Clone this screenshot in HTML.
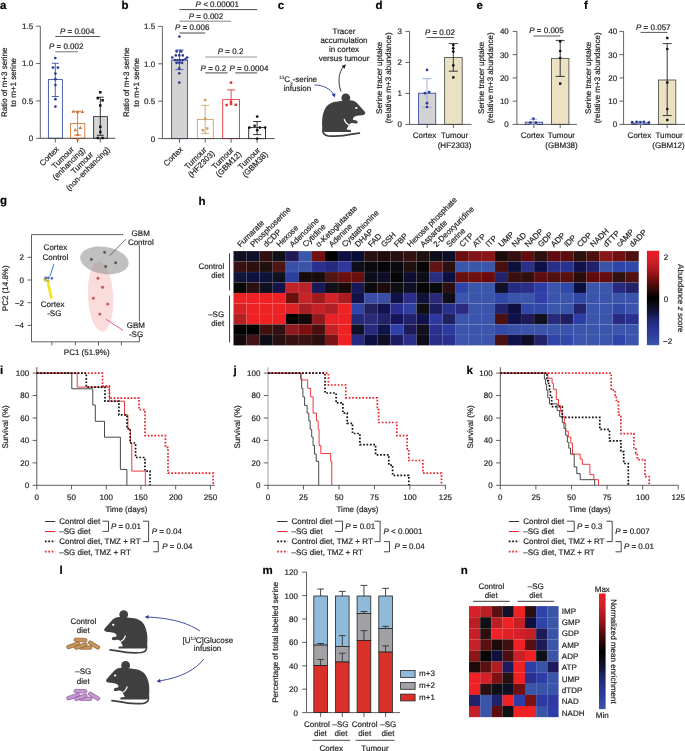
<!DOCTYPE html><html><head><meta charset="utf-8"><title>Figure</title><style>
html,body{margin:0;padding:0;background:#fff;overflow:hidden;}svg{display:block;will-change:transform;}
</style></head><body>
<svg width="685" height="751" viewBox="0 0 685 751">
<rect width="685" height="751" fill="#fff"/>
<style>text{stroke:#231f20;stroke-width:0.2px;paint-order:stroke;text-rendering:geometricPrecision;}</style>
<g font-family="Liberation Sans, sans-serif" font-size="8" fill="#231f20">
<text x="0.00" y="8.50" font-size="11.5" font-weight="bold" fill="#000" >a</text>
<line x1="40.30" y1="26.20" x2="40.30" y2="138.30" stroke="#3a3a3a" stroke-width="0.8" />
<line x1="36.10" y1="138.30" x2="40.30" y2="138.30" stroke="#3a3a3a" stroke-width="0.8" />
<text x="33.10" y="141.20" text-anchor="end" >0</text>
<line x1="36.10" y1="100.93" x2="40.30" y2="100.93" stroke="#3a3a3a" stroke-width="0.8" />
<text x="33.10" y="103.83" text-anchor="end" >0.5</text>
<line x1="36.10" y1="63.57" x2="40.30" y2="63.57" stroke="#3a3a3a" stroke-width="0.8" />
<text x="33.10" y="66.47" text-anchor="end" >1.0</text>
<line x1="36.10" y1="26.20" x2="40.30" y2="26.20" stroke="#3a3a3a" stroke-width="0.8" />
<text x="33.10" y="29.10" text-anchor="end" >1.5</text>
<line x1="55.30" y1="138.30" x2="55.30" y2="142.50" stroke="#3a3a3a" stroke-width="0.8" />
<line x1="77.60" y1="138.30" x2="77.60" y2="142.50" stroke="#3a3a3a" stroke-width="0.8" />
<line x1="100.30" y1="138.30" x2="100.30" y2="142.50" stroke="#3a3a3a" stroke-width="0.8" />
<rect x="48.40" y="79.60" width="14.00" height="58.70" fill="#fff" stroke="#3b4fa6" stroke-width="0.9" />
<rect x="70.60" y="123.50" width="14.20" height="14.80" fill="#fff" stroke="#d27638" stroke-width="0.9" />
<rect x="93.60" y="116.60" width="13.80" height="21.70" fill="#d5d5d5" stroke="#333" stroke-width="0.9" />
<line x1="40.30" y1="138.30" x2="115.30" y2="138.30" stroke="#3a3a3a" stroke-width="0.9" />
<line x1="55.30" y1="63.30" x2="55.30" y2="96.50" stroke="#3b4fa6" stroke-width="0.9" />
<line x1="51.80" y1="63.30" x2="58.80" y2="63.30" stroke="#3b4fa6" stroke-width="0.9" />
<line x1="51.80" y1="96.50" x2="58.80" y2="96.50" stroke="#3b4fa6" stroke-width="0.9" />
<line x1="77.60" y1="111.40" x2="77.60" y2="135.00" stroke="#d27638" stroke-width="0.9" />
<line x1="74.10" y1="111.40" x2="81.10" y2="111.40" stroke="#d27638" stroke-width="0.9" />
<line x1="74.10" y1="135.00" x2="81.10" y2="135.00" stroke="#d27638" stroke-width="0.9" />
<line x1="100.30" y1="97.20" x2="100.30" y2="135.30" stroke="#222" stroke-width="0.9" />
<line x1="96.80" y1="97.20" x2="103.80" y2="97.20" stroke="#222" stroke-width="0.9" />
<line x1="96.80" y1="135.30" x2="103.80" y2="135.30" stroke="#222" stroke-width="0.9" />
<circle cx="55.30" cy="58.00" r="1.35" fill="#2c3c94" />
<circle cx="53.00" cy="67.60" r="1.35" fill="#2c3c94" />
<circle cx="57.90" cy="67.60" r="1.35" fill="#2c3c94" />
<circle cx="55.40" cy="73.60" r="1.35" fill="#2c3c94" />
<circle cx="55.40" cy="79.20" r="1.35" fill="#2c3c94" />
<circle cx="55.40" cy="85.00" r="1.35" fill="#2c3c94" />
<circle cx="55.40" cy="99.20" r="1.35" fill="#2c3c94" />
<circle cx="55.40" cy="106.60" r="1.35" fill="#2c3c94" />
<path d="M71.50,112.82 L73.30,109.58 L75.10,112.82Z" fill="#d27638"/>
<path d="M75.80,113.22 L77.60,109.98 L79.40,113.22Z" fill="#d27638"/>
<path d="M80.60,113.02 L82.40,109.78 L84.20,113.02Z" fill="#d27638"/>
<path d="M73.50,131.32 L75.30,128.08 L77.10,131.32Z" fill="#d27638"/>
<path d="M78.50,129.02 L80.30,125.78 L82.10,129.02Z" fill="#d27638"/>
<path d="M75.80,136.02 L77.60,132.78 L79.40,136.02Z" fill="#d27638"/>
<path d="M75.80,140.22 L77.60,136.98 L79.40,140.22Z" fill="#d27638"/>
<rect x="99.05" y="91.05" width="2.50" height="2.50" fill="#111" />
<rect x="96.55" y="96.95" width="2.50" height="2.50" fill="#111" />
<rect x="101.35" y="99.05" width="2.50" height="2.50" fill="#111" />
<rect x="99.05" y="104.25" width="2.50" height="2.50" fill="#111" />
<rect x="99.05" y="125.55" width="2.50" height="2.50" fill="#111" />
<rect x="99.05" y="130.75" width="2.50" height="2.50" fill="#111" />
<rect x="96.65" y="136.75" width="2.50" height="2.50" fill="#111" />
<rect x="101.25" y="136.75" width="2.50" height="2.50" fill="#111" />
<line x1="55.30" y1="36.50" x2="100.20" y2="36.50" stroke="#444" stroke-width="0.9" />
<text x="77.20" y="34.00" text-anchor="middle"><tspan font-style="italic">P</tspan> = 0.004</text>
<line x1="55.30" y1="51.80" x2="78.00" y2="51.80" stroke="#666" stroke-width="0.9" />
<text x="66.20" y="49.30" text-anchor="middle"><tspan font-style="italic">P</tspan> = 0.002</text>
<text transform="translate(7.2,82.3) rotate(-90)" text-anchor="middle">Ratio of m+3 serine</text>
<text transform="translate(16.2,82.3) rotate(-90)" text-anchor="middle">to m+1 serine</text>
<text transform="translate(49.20,156.20) rotate(-45)" text-anchor="middle"><tspan x="0" y="2.60">Cortex</tspan></text>
<text transform="translate(65.80,160.70) rotate(-45)" text-anchor="middle"><tspan x="0" y="-1.55">Tumour</tspan><tspan x="0" y="6.75">(enhancing)</tspan></text>
<text transform="translate(85.00,165.90) rotate(-45)" text-anchor="middle"><tspan x="0" y="-1.55">Tumour</tspan><tspan x="0" y="6.75">(non-enhancing)</tspan></text>
<text x="121.50" y="8.50" font-size="11.5" font-weight="bold" fill="#000" >b</text>
<line x1="162.40" y1="26.40" x2="162.40" y2="138.60" stroke="#3a3a3a" stroke-width="0.8" />
<line x1="158.20" y1="138.60" x2="162.40" y2="138.60" stroke="#3a3a3a" stroke-width="0.8" />
<text x="155.20" y="141.50" text-anchor="end" >0</text>
<line x1="158.20" y1="101.20" x2="162.40" y2="101.20" stroke="#3a3a3a" stroke-width="0.8" />
<text x="155.20" y="104.10" text-anchor="end" >0.5</text>
<line x1="158.20" y1="63.80" x2="162.40" y2="63.80" stroke="#3a3a3a" stroke-width="0.8" />
<text x="155.20" y="66.70" text-anchor="end" >1.0</text>
<line x1="158.20" y1="26.40" x2="162.40" y2="26.40" stroke="#3a3a3a" stroke-width="0.8" />
<text x="155.20" y="29.30" text-anchor="end" >1.5</text>
<line x1="179.50" y1="138.60" x2="179.50" y2="142.80" stroke="#3a3a3a" stroke-width="0.8" />
<line x1="205.20" y1="138.60" x2="205.20" y2="142.80" stroke="#3a3a3a" stroke-width="0.8" />
<line x1="231.10" y1="138.60" x2="231.10" y2="142.80" stroke="#3a3a3a" stroke-width="0.8" />
<line x1="257.10" y1="138.60" x2="257.10" y2="142.80" stroke="#3a3a3a" stroke-width="0.8" />
<rect x="171.60" y="60.10" width="16.00" height="78.50" fill="#d3d3d3" stroke="#3b4fa6" stroke-width="0.9" />
<rect x="197.30" y="119.40" width="16.00" height="19.20" fill="#fff" stroke="#c9a261" stroke-width="0.9" />
<rect x="222.70" y="99.60" width="16.80" height="39.00" fill="#fff" stroke="#e8343a" stroke-width="0.9" />
<rect x="248.70" y="127.60" width="16.80" height="11.00" fill="#fff" stroke="#222" stroke-width="0.9" />
<line x1="162.40" y1="138.60" x2="274.70" y2="138.60" stroke="#3a3a3a" stroke-width="0.9" />
<line x1="179.50" y1="50.00" x2="179.50" y2="69.60" stroke="#3b4fa6" stroke-width="0.9" />
<line x1="175.50" y1="50.00" x2="183.50" y2="50.00" stroke="#3b4fa6" stroke-width="0.9" />
<line x1="175.50" y1="69.60" x2="183.50" y2="69.60" stroke="#3b4fa6" stroke-width="0.9" />
<line x1="205.20" y1="105.30" x2="205.20" y2="133.40" stroke="#c9a261" stroke-width="0.9" />
<line x1="201.20" y1="105.30" x2="209.20" y2="105.30" stroke="#c9a261" stroke-width="0.9" />
<line x1="201.20" y1="133.40" x2="209.20" y2="133.40" stroke="#c9a261" stroke-width="0.9" />
<line x1="231.10" y1="89.90" x2="231.10" y2="101.00" stroke="#e8343a" stroke-width="0.9" />
<line x1="227.10" y1="89.90" x2="235.10" y2="89.90" stroke="#e8343a" stroke-width="0.9" />
<line x1="257.10" y1="121.50" x2="257.10" y2="134.60" stroke="#222" stroke-width="0.9" />
<line x1="253.10" y1="121.50" x2="261.10" y2="121.50" stroke="#222" stroke-width="0.9" />
<line x1="253.10" y1="134.60" x2="261.10" y2="134.60" stroke="#222" stroke-width="0.9" />
<circle cx="179.40" cy="36.60" r="1.35" fill="#2c3c94" />
<circle cx="176.60" cy="51.40" r="1.35" fill="#2c3c94" />
<circle cx="181.20" cy="51.40" r="1.35" fill="#2c3c94" />
<circle cx="172.30" cy="57.50" r="1.35" fill="#2c3c94" />
<circle cx="175.80" cy="55.40" r="1.35" fill="#2c3c94" />
<circle cx="179.30" cy="55.40" r="1.35" fill="#2c3c94" />
<circle cx="182.80" cy="55.40" r="1.35" fill="#2c3c94" />
<circle cx="187.20" cy="57.50" r="1.35" fill="#2c3c94" />
<circle cx="174.90" cy="60.10" r="1.35" fill="#2c3c94" />
<circle cx="177.50" cy="60.10" r="1.35" fill="#2c3c94" />
<circle cx="180.10" cy="60.10" r="1.35" fill="#2c3c94" />
<circle cx="182.80" cy="60.10" r="1.35" fill="#2c3c94" />
<circle cx="185.50" cy="59.00" r="1.35" fill="#2c3c94" />
<circle cx="176.60" cy="62.80" r="1.35" fill="#2c3c94" />
<circle cx="179.30" cy="62.80" r="1.35" fill="#2c3c94" />
<circle cx="182.00" cy="62.80" r="1.35" fill="#2c3c94" />
<circle cx="179.30" cy="68.40" r="1.35" fill="#2c3c94" />
<circle cx="179.30" cy="73.30" r="1.35" fill="#2c3c94" />
<circle cx="179.30" cy="82.60" r="1.35" fill="#2c3c94" />
<rect x="203.95" y="98.85" width="2.50" height="2.50" fill="#c9a261" />
<rect x="203.95" y="117.55" width="2.50" height="2.50" fill="#c9a261" />
<rect x="201.65" y="128.95" width="2.50" height="2.50" fill="#c9a261" />
<rect x="206.05" y="127.25" width="2.50" height="2.50" fill="#c9a261" />
<rect x="229.75" y="81.35" width="2.50" height="2.50" fill="#e8343a" />
<rect x="225.35" y="103.75" width="2.50" height="2.50" fill="#e8343a" />
<rect x="229.75" y="100.55" width="2.50" height="2.50" fill="#e8343a" />
<rect x="229.75" y="102.75" width="2.50" height="2.50" fill="#e8343a" />
<rect x="234.45" y="103.55" width="2.50" height="2.50" fill="#e8343a" />
<circle cx="257.20" cy="116.60" r="1.35" fill="#111" />
<circle cx="249.40" cy="127.60" r="1.35" fill="#111" />
<circle cx="254.60" cy="125.80" r="1.35" fill="#111" />
<circle cx="257.20" cy="130.20" r="1.35" fill="#111" />
<circle cx="259.90" cy="127.60" r="1.35" fill="#111" />
<circle cx="265.10" cy="127.60" r="1.35" fill="#111" />
<circle cx="257.20" cy="138.60" r="1.35" fill="#111" />
<line x1="179.50" y1="9.60" x2="257.10" y2="9.60" stroke="#333" stroke-width="0.9" />
<text x="217.30" y="7.40" text-anchor="middle"><tspan font-style="italic">P</tspan> &lt; 0.00001</text>
<line x1="179.50" y1="21.20" x2="231.10" y2="21.20" stroke="#777" stroke-width="0.9" />
<text x="206.00" y="18.90" text-anchor="middle"><tspan font-style="italic">P</tspan> = 0.002</text>
<line x1="179.50" y1="33.00" x2="205.20" y2="33.00" stroke="#333" stroke-width="0.9" />
<text x="192.20" y="30.40" text-anchor="middle"><tspan font-style="italic">P</tspan> = 0.006</text>
<line x1="205.20" y1="57.00" x2="257.10" y2="57.00" stroke="#888" stroke-width="0.9" />
<text x="230.60" y="54.40" text-anchor="middle"><tspan font-style="italic">P</tspan> = 0.2</text>
<line x1="205.20" y1="72.90" x2="227.60" y2="72.90" stroke="#333" stroke-width="0.9" />
<text x="213.40" y="70.60" text-anchor="middle"><tspan font-style="italic">P</tspan> = 0.2</text>
<line x1="235.30" y1="72.90" x2="257.10" y2="72.90" stroke="#333" stroke-width="0.9" />
<text x="248.90" y="70.60" text-anchor="middle"><tspan font-style="italic">P</tspan> = 0.0004</text>
<text transform="translate(129.2,82.3) rotate(-90)" text-anchor="middle">Ratio of m+3 serine</text>
<text transform="translate(138.6,82.3) rotate(-90)" text-anchor="middle">to m+1 serine</text>
<text transform="translate(173.20,156.50) rotate(-45)" text-anchor="middle"><tspan x="0" y="2.60">Cortex</tspan></text>
<text transform="translate(198.50,161.10) rotate(-45)" text-anchor="middle"><tspan x="0" y="-1.55">Tumour</tspan><tspan x="0" y="6.75">(HF2303)</tspan></text>
<text transform="translate(225.70,161.30) rotate(-45)" text-anchor="middle"><tspan x="0" y="-1.55">Tumour</tspan><tspan x="0" y="6.75">(GBM12)</tspan></text>
<text transform="translate(252.10,161.50) rotate(-45)" text-anchor="middle"><tspan x="0" y="-1.55">Tumour</tspan><tspan x="0" y="6.75">(GBM38)</tspan></text>
<text x="277.80" y="8.50" font-size="11.5" font-weight="bold" fill="#000" >c</text>
<text x="344.00" y="33.60" text-anchor="middle" >Tracer</text>
<text x="344.00" y="42.80" text-anchor="middle" >accumulation</text>
<text x="344.00" y="52.00" text-anchor="middle" >in cortex</text>
<text x="344.00" y="61.20" text-anchor="middle" >versus tumour</text>
<text x="279" y="81.9"><tspan font-size="4.7" dy="-3.3" style="stroke-width:0.1px">13</tspan><tspan dy="3.3">C</tspan><tspan font-size="4.7" dy="2.8" style="stroke-width:0.1px">3</tspan><tspan dy="-2.8">-serine</tspan></text>
<text x="297.30" y="90.90" text-anchor="middle" >infusion</text>
<path d="M340.9,91.6 C337.6,81.5 338.6,72.5 343.6,66.6" fill="none" stroke="#222" stroke-width="0.9"/>
<path d="M345.9,64.2 L341.6,66.0 L344.6,68.8 Z" fill="#222"/>
<path d="M314.6,85.0 C323.5,85.0 330.5,89.0 333.6,94.4" fill="none" stroke="#2b3a9a" stroke-width="0.9"/>
<path d="M334.9,97.4 L331.6,94.4 L335.4,93.2 Z" fill="#2b3a9a"/>
<g transform="translate(322,94)"><path d="M15.7,7.4 C19,7.0 25,6.2 28.3,6.3 C31,6.4 33.5,7.6 35,9 L42.6,17.6 C43.9,19 43.3,20.5 41.9,20.8 C39.5,21.4 36.5,21.6 35.5,21.8 C33.5,22.2 31.7,22.8 31,24.5 C30.8,25.3 31.1,26 31.9,26.1 L34.3,26.4 C35.8,26.8 36.2,28.9 34.7,29.4 C33.8,29.7 32.8,29.5 32.2,29.3 L30.5,29.0 C29.3,29.0 28.3,29.3 27.6,30.1 C26.5,31.5 25.5,33.5 24.6,35.6 L28.6,36.1 C29.3,36.3 29.3,37.9 28.6,37.9 L3.6,37.9 C1.7,37.9 0.5,36.5 0.3,34 C-0.2,29 0.1,23 1.2,19.5 C2.4,15.0 4.2,12.2 6.6,10.4 C9.5,8.2 12.5,7.6 15.7,7.4 Z" fill="#404040"/><circle cx="23.8" cy="3.9" r="4.4" fill="#404040"/><ellipse cx="34.3" cy="14.0" rx="1.2" ry="1.05" fill="#fff"/><path d="M22.2,25.2 C22.8,27.6 24.4,29.8 26.8,30.9" fill="none" stroke="#fff" stroke-width="1.1" stroke-linecap="round"/><path d="M1.0,35.0 C0.2,38.8 1.8,41.2 6,41.8 C13,42.6 22,42.0 30,40.2 L37.4,39.1" fill="none" stroke="#404040" stroke-width="1.7" stroke-linecap="round"/></g>
<text x="375.50" y="8.50" font-size="11.5" font-weight="bold" fill="#000" >d</text>
<line x1="409.60" y1="31.40" x2="409.60" y2="124.40" stroke="#3a3a3a" stroke-width="0.8" />
<line x1="405.40" y1="124.40" x2="409.60" y2="124.40" stroke="#3a3a3a" stroke-width="0.8" />
<text x="402.00" y="127.30" text-anchor="end" >0</text>
<line x1="405.40" y1="93.40" x2="409.60" y2="93.40" stroke="#3a3a3a" stroke-width="0.8" />
<text x="402.00" y="96.30" text-anchor="end" >1</text>
<line x1="405.40" y1="62.40" x2="409.60" y2="62.40" stroke="#3a3a3a" stroke-width="0.8" />
<text x="402.00" y="65.30" text-anchor="end" >2</text>
<line x1="405.40" y1="31.40" x2="409.60" y2="31.40" stroke="#3a3a3a" stroke-width="0.8" />
<text x="402.00" y="34.30" text-anchor="end" >3</text>
<rect x="418.60" y="93.20" width="17.10" height="31.20" fill="#d3d3d3" stroke="#3b4fa6" stroke-width="0.9" />
<rect x="444.60" y="57.50" width="17.60" height="66.90" fill="#ebe2c4" stroke="#555" stroke-width="0.9" />
<line x1="409.60" y1="124.40" x2="471.50" y2="124.40" stroke="#3a3a3a" stroke-width="0.8" />
<line x1="427.00" y1="78.70" x2="427.00" y2="107.30" stroke="#93a6dc" stroke-width="0.9" />
<line x1="422.50" y1="78.70" x2="431.50" y2="78.70" stroke="#93a6dc" stroke-width="0.9" />
<line x1="422.50" y1="107.30" x2="431.50" y2="107.30" stroke="#93a6dc" stroke-width="0.9" />
<line x1="453.30" y1="43.60" x2="453.30" y2="71.20" stroke="#222" stroke-width="0.9" />
<line x1="448.80" y1="43.60" x2="457.80" y2="43.60" stroke="#222" stroke-width="0.9" />
<line x1="448.80" y1="71.20" x2="457.80" y2="71.20" stroke="#222" stroke-width="0.9" />
<circle cx="427.00" cy="69.90" r="1.35" fill="#2c3c94" />
<circle cx="425.00" cy="93.20" r="1.35" fill="#2c3c94" />
<circle cx="429.10" cy="92.20" r="1.35" fill="#2c3c94" />
<circle cx="427.00" cy="103.20" r="1.35" fill="#2c3c94" />
<circle cx="427.00" cy="107.00" r="1.35" fill="#2c3c94" />
<circle cx="453.30" cy="45.00" r="1.35" fill="#111" />
<circle cx="453.30" cy="48.30" r="1.35" fill="#111" />
<circle cx="453.30" cy="51.60" r="1.35" fill="#111" />
<circle cx="453.30" cy="65.40" r="1.35" fill="#111" />
<rect x="452.10" y="76.20" width="2.40" height="2.40" fill="#111" />
<line x1="427.15" y1="124.40" x2="427.15" y2="128.00" stroke="#3a3a3a" stroke-width="0.8" />
<line x1="453.40" y1="124.40" x2="453.40" y2="128.00" stroke="#3a3a3a" stroke-width="0.8" />
<line x1="426.60" y1="37.50" x2="454.00" y2="37.50" stroke="#444" stroke-width="0.9" />
<text x="439.90" y="35.20" text-anchor="middle"><tspan font-style="italic">P</tspan> = 0.02</text>
<text x="424.50" y="138.00" text-anchor="middle" >Cortex</text>
<text x="454.60" y="138.00" text-anchor="middle" >Tumour</text>
<text x="454.60" y="147.50" text-anchor="middle" >(HF2303)</text>
<text x="476.50" y="8.50" font-size="11.5" font-weight="bold" fill="#000" >e</text>
<line x1="516.90" y1="31.40" x2="516.90" y2="124.40" stroke="#3a3a3a" stroke-width="0.8" />
<line x1="512.70" y1="124.40" x2="516.90" y2="124.40" stroke="#3a3a3a" stroke-width="0.8" />
<text x="508.80" y="127.30" text-anchor="end" >0</text>
<line x1="512.70" y1="101.15" x2="516.90" y2="101.15" stroke="#3a3a3a" stroke-width="0.8" />
<text x="508.80" y="104.05" text-anchor="end" >10</text>
<line x1="512.70" y1="77.90" x2="516.90" y2="77.90" stroke="#3a3a3a" stroke-width="0.8" />
<text x="508.80" y="80.80" text-anchor="end" >20</text>
<line x1="512.70" y1="54.65" x2="516.90" y2="54.65" stroke="#3a3a3a" stroke-width="0.8" />
<text x="508.80" y="57.55" text-anchor="end" >30</text>
<line x1="512.70" y1="31.40" x2="516.90" y2="31.40" stroke="#3a3a3a" stroke-width="0.8" />
<text x="508.80" y="34.30" text-anchor="end" >40</text>
<rect x="525.20" y="122.20" width="17.40" height="2.20" fill="#d3d3d3" stroke="#3b4fa6" stroke-width="0.9" />
<rect x="551.50" y="58.40" width="17.40" height="66.00" fill="#ebe2c4" stroke="#555" stroke-width="0.9" />
<line x1="516.90" y1="124.40" x2="577.00" y2="124.40" stroke="#3a3a3a" stroke-width="0.8" />
<line x1="533.40" y1="119.40" x2="533.40" y2="124.40" stroke="#93a6dc" stroke-width="0.9" />
<line x1="529.90" y1="119.40" x2="536.90" y2="119.40" stroke="#93a6dc" stroke-width="0.9" />
<line x1="529.90" y1="124.40" x2="536.90" y2="124.40" stroke="#93a6dc" stroke-width="0.9" />
<line x1="560.20" y1="40.40" x2="560.20" y2="76.40" stroke="#222" stroke-width="0.9" />
<line x1="555.70" y1="40.40" x2="564.70" y2="40.40" stroke="#222" stroke-width="0.9" />
<line x1="555.70" y1="76.40" x2="564.70" y2="76.40" stroke="#222" stroke-width="0.9" />
<circle cx="533.40" cy="118.60" r="1.35" fill="#2c3c94" />
<circle cx="530.30" cy="122.70" r="1.35" fill="#2c3c94" />
<circle cx="536.00" cy="122.70" r="1.35" fill="#2c3c94" />
<circle cx="560.20" cy="41.40" r="1.35" fill="#111" />
<circle cx="560.20" cy="51.00" r="1.35" fill="#111" />
<circle cx="560.20" cy="58.00" r="1.35" fill="#111" />
<rect x="559.00" y="82.40" width="2.40" height="2.40" fill="#111" />
<line x1="533.90" y1="124.40" x2="533.90" y2="128.00" stroke="#3a3a3a" stroke-width="0.8" />
<line x1="560.20" y1="124.40" x2="560.20" y2="128.00" stroke="#3a3a3a" stroke-width="0.8" />
<line x1="533.40" y1="36.00" x2="560.20" y2="36.00" stroke="#444" stroke-width="0.9" />
<text x="546.50" y="33.20" text-anchor="middle"><tspan font-style="italic">P</tspan> = 0.005</text>
<text x="532.50" y="137.70" text-anchor="middle" >Cortex</text>
<text x="561.40" y="137.70" text-anchor="middle" >Tumour</text>
<text x="561.50" y="147.50" text-anchor="middle" >(GBM38)</text>
<text x="584.00" y="8.50" font-size="11.5" font-weight="bold" fill="#000" >f</text>
<line x1="623.60" y1="31.40" x2="623.60" y2="124.40" stroke="#3a3a3a" stroke-width="0.8" />
<line x1="619.40" y1="124.40" x2="623.60" y2="124.40" stroke="#3a3a3a" stroke-width="0.8" />
<text x="617.20" y="127.30" text-anchor="end" >0</text>
<line x1="619.40" y1="101.15" x2="623.60" y2="101.15" stroke="#3a3a3a" stroke-width="0.8" />
<text x="617.20" y="104.05" text-anchor="end" >10</text>
<line x1="619.40" y1="77.90" x2="623.60" y2="77.90" stroke="#3a3a3a" stroke-width="0.8" />
<text x="617.20" y="80.80" text-anchor="end" >20</text>
<line x1="619.40" y1="54.65" x2="623.60" y2="54.65" stroke="#3a3a3a" stroke-width="0.8" />
<text x="617.20" y="57.55" text-anchor="end" >30</text>
<line x1="619.40" y1="31.40" x2="623.60" y2="31.40" stroke="#3a3a3a" stroke-width="0.8" />
<text x="617.20" y="34.30" text-anchor="end" >40</text>
<rect x="631.80" y="123.00" width="17.60" height="1.40" fill="#d3d3d3" stroke="#3b4fa6" stroke-width="0.9" />
<rect x="658.50" y="80.00" width="17.30" height="44.40" fill="#ebe2c4" stroke="#555" stroke-width="0.9" />
<line x1="623.60" y1="124.40" x2="686.00" y2="124.40" stroke="#3a3a3a" stroke-width="0.8" />
<line x1="640.40" y1="121.60" x2="640.40" y2="124.20" stroke="#93a6dc" stroke-width="0.9" />
<line x1="637.90" y1="121.60" x2="642.90" y2="121.60" stroke="#93a6dc" stroke-width="0.9" />
<line x1="637.90" y1="124.20" x2="642.90" y2="124.20" stroke="#93a6dc" stroke-width="0.9" />
<line x1="667.20" y1="43.60" x2="667.20" y2="115.60" stroke="#222" stroke-width="0.9" />
<line x1="662.70" y1="43.60" x2="671.70" y2="43.60" stroke="#222" stroke-width="0.9" />
<line x1="662.70" y1="115.60" x2="671.70" y2="115.60" stroke="#222" stroke-width="0.9" />
<circle cx="632.20" cy="122.20" r="1.35" fill="#2c3c94" />
<circle cx="636.60" cy="121.80" r="1.35" fill="#2c3c94" />
<circle cx="640.30" cy="122.00" r="1.35" fill="#2c3c94" />
<circle cx="644.00" cy="121.80" r="1.35" fill="#2c3c94" />
<circle cx="648.80" cy="122.40" r="1.35" fill="#2c3c94" />
<rect x="666.10" y="36.80" width="2.40" height="2.40" fill="#111" />
<circle cx="667.30" cy="49.00" r="1.35" fill="#111" />
<circle cx="667.30" cy="82.60" r="1.35" fill="#111" />
<circle cx="667.30" cy="109.00" r="1.35" fill="#111" />
<rect x="666.10" y="118.80" width="2.40" height="2.40" fill="#111" />
<line x1="640.60" y1="124.40" x2="640.60" y2="128.00" stroke="#3a3a3a" stroke-width="0.8" />
<line x1="667.15" y1="124.40" x2="667.15" y2="128.00" stroke="#3a3a3a" stroke-width="0.8" />
<line x1="640.60" y1="32.40" x2="667.30" y2="32.40" stroke="#444" stroke-width="0.9" />
<text x="653.30" y="30.00" text-anchor="middle"><tspan font-style="italic">P</tspan> = 0.057</text>
<text x="639.40" y="137.70" text-anchor="middle" >Cortex</text>
<text x="669.10" y="137.70" text-anchor="middle" >Tumour</text>
<text x="668.50" y="147.50" text-anchor="middle" >(GBM12)</text>
<text transform="translate(382.4,77.9) rotate(-90)" text-anchor="middle">Serine tracer uptake</text>
<text transform="translate(391.2,77.9) rotate(-90)" text-anchor="middle">(relative m+3 abundance)</text>
<text transform="translate(483.8,77.9) rotate(-90)" text-anchor="middle">Serine tracer uptake</text>
<text transform="translate(492.6,77.9) rotate(-90)" text-anchor="middle">(relative m+3 abundance)</text>
<text transform="translate(590.9,77.9) rotate(-90)" text-anchor="middle">Serine tracer uptake</text>
<text transform="translate(599.7,77.9) rotate(-90)" text-anchor="middle">(relative m+3 abundance)</text>
<text x="0.00" y="203.50" font-size="11.5" font-weight="bold" fill="#000" >g</text>
<line x1="31.50" y1="234.60" x2="123.30" y2="234.60" stroke="#3a3a3a" stroke-width="0.8" />
<line x1="31.50" y1="234.60" x2="31.50" y2="341.80" stroke="#3a3a3a" stroke-width="0.8" />
<line x1="31.50" y1="341.80" x2="139.40" y2="341.80" stroke="#3a3a3a" stroke-width="0.8" />
<line x1="139.40" y1="245.00" x2="139.40" y2="321.50" stroke="#3a3a3a" stroke-width="0.8" />
<line x1="139.40" y1="336.00" x2="139.40" y2="341.80" stroke="#3a3a3a" stroke-width="0.8" />
<line x1="27.60" y1="257.30" x2="31.50" y2="257.30" stroke="#3a3a3a" stroke-width="0.8" />
<text x="24.00" y="260.20" text-anchor="end" >2</text>
<line x1="27.60" y1="280.00" x2="31.50" y2="280.00" stroke="#3a3a3a" stroke-width="0.8" />
<text x="24.00" y="282.90" text-anchor="end" >0</text>
<line x1="27.60" y1="302.70" x2="31.50" y2="302.70" stroke="#3a3a3a" stroke-width="0.8" />
<text x="24.00" y="305.60" text-anchor="end" >−2</text>
<line x1="27.60" y1="325.40" x2="31.50" y2="325.40" stroke="#3a3a3a" stroke-width="0.8" />
<text x="24.00" y="328.30" text-anchor="end" >−4</text>
<line x1="51.80" y1="341.80" x2="51.80" y2="345.40" stroke="#3a3a3a" stroke-width="0.8" />
<line x1="75.40" y1="341.80" x2="75.40" y2="345.40" stroke="#3a3a3a" stroke-width="0.8" />
<line x1="98.50" y1="341.80" x2="98.50" y2="345.40" stroke="#3a3a3a" stroke-width="0.8" />
<line x1="121.40" y1="341.80" x2="121.40" y2="345.40" stroke="#3a3a3a" stroke-width="0.8" />
<text x="86.70" y="354.90" text-anchor="middle" >PC1 (51.9%)</text>
<text transform="translate(8.3,288.3) rotate(-90)" text-anchor="middle">PC2 (14.8%)</text>
<ellipse cx="100.6" cy="296.6" rx="12.6" ry="35.2" transform="rotate(-3 100.6 296.6)" fill="#f8d2d4" fill-opacity="0.78"/>
<ellipse cx="104.4" cy="260.4" rx="24.4" ry="13.6" transform="rotate(9 104.4 260.4)" fill="#8e8e8e" fill-opacity="0.56"/>
<circle cx="91.40" cy="259.40" r="1.15" fill="#555" stroke="#333" stroke-width="0.4"/>
<circle cx="104.60" cy="252.30" r="1.15" fill="#555" stroke="#333" stroke-width="0.4"/>
<circle cx="115.60" cy="262.80" r="1.15" fill="#555" stroke="#333" stroke-width="0.4"/>
<circle cx="105.60" cy="266.50" r="1.15" fill="#555" stroke="#333" stroke-width="0.4"/>
<circle cx="98.00" cy="278.30" r="1.2" fill="#e25858" stroke="#9a3030" stroke-width="0.4"/>
<circle cx="102.50" cy="287.30" r="1.2" fill="#e25858" stroke="#9a3030" stroke-width="0.4"/>
<circle cx="93.30" cy="298.30" r="1.2" fill="#e25858" stroke="#9a3030" stroke-width="0.4"/>
<circle cx="107.70" cy="304.10" r="1.2" fill="#e25858" stroke="#9a3030" stroke-width="0.4"/>
<circle cx="99.80" cy="314.10" r="1.2" fill="#e25858" stroke="#9a3030" stroke-width="0.4"/>
<line x1="53.90" y1="264.10" x2="49.90" y2="276.30" stroke="#2f7fd8" stroke-width="1.0" />
<line x1="47.90" y1="282.40" x2="51.50" y2="298.40" stroke="#f6e41e" stroke-width="2.6" />
<circle cx="44.60" cy="279.40" r="1.1" fill="#f0e040" stroke="#8a8420" stroke-width="0.45"/>
<circle cx="46.20" cy="280.40" r="1.1" fill="#f0e040" stroke="#8a8420" stroke-width="0.45"/>
<circle cx="48.30" cy="281.00" r="1.1" fill="#f0e040" stroke="#8a8420" stroke-width="0.45"/>
<circle cx="45.80" cy="277.80" r="1.1" fill="#7078d8" stroke="#2a30a0" stroke-width="0.45"/>
<circle cx="48.40" cy="277.80" r="1.1" fill="#7078d8" stroke="#2a30a0" stroke-width="0.45"/>
<circle cx="51.90" cy="278.30" r="1.1" fill="#7078d8" stroke="#2a30a0" stroke-width="0.45"/>
<line x1="125.80" y1="239.20" x2="109.70" y2="255.60" stroke="#555" stroke-width="0.8" />
<line x1="105.80" y1="319.20" x2="123.00" y2="330.30" stroke="#e8589a" stroke-width="1.0" />
<text x="55.40" y="250.40" text-anchor="middle" >Cortex</text>
<text x="55.40" y="260.40" text-anchor="middle" >Control</text>
<text x="52.60" y="306.90" text-anchor="middle" >Cortex</text>
<text x="54.30" y="316.00" text-anchor="middle" >-SG</text>
<text x="140.70" y="235.80" text-anchor="middle" >GBM</text>
<text x="140.80" y="244.70" text-anchor="middle" >Control</text>
<text x="135.80" y="328.00" text-anchor="middle" >GBM</text>
<text x="136.00" y="336.70" text-anchor="middle" >-SG</text>
<text x="198.40" y="205.10" font-size="11.5" font-weight="bold" fill="#000" >h</text>
<rect x="233.50" y="251.10" width="13.12" height="10.52" fill="#101020"/><rect x="246.57" y="251.10" width="13.12" height="10.52" fill="#10102a"/><rect x="259.64" y="251.10" width="13.12" height="10.52" fill="#301010"/><rect x="272.71" y="251.10" width="13.12" height="10.52" fill="#101018"/><rect x="285.78" y="251.10" width="13.12" height="10.52" fill="#201a5a"/><rect x="298.85" y="251.10" width="13.12" height="10.52" fill="#3a57ab"/><rect x="311.92" y="251.10" width="13.12" height="10.52" fill="#701010"/><rect x="324.99" y="251.10" width="13.12" height="10.52" fill="#000000"/><rect x="338.06" y="251.10" width="13.12" height="10.52" fill="#0e0e40"/><rect x="351.13" y="251.10" width="13.12" height="10.52" fill="#0a0e38"/><rect x="364.20" y="251.10" width="13.12" height="10.52" fill="#281010"/><rect x="377.27" y="251.10" width="13.12" height="10.52" fill="#1e0c0c"/><rect x="390.34" y="251.10" width="13.12" height="10.52" fill="#281010"/><rect x="403.41" y="251.10" width="13.12" height="10.52" fill="#341212"/><rect x="416.48" y="251.10" width="13.12" height="10.52" fill="#201010"/><rect x="429.55" y="251.10" width="13.12" height="10.52" fill="#0e0e1a"/><rect x="442.62" y="251.10" width="13.12" height="10.52" fill="#0e0e28"/><rect x="455.69" y="251.10" width="13.12" height="10.52" fill="#6a0e0e"/><rect x="468.76" y="251.10" width="13.12" height="10.52" fill="#801416"/><rect x="481.83" y="251.10" width="13.12" height="10.52" fill="#8a1618"/><rect x="494.90" y="251.10" width="13.12" height="10.52" fill="#1e0c0c"/><rect x="507.97" y="251.10" width="13.12" height="10.52" fill="#361010"/><rect x="521.04" y="251.10" width="13.12" height="10.52" fill="#600c0e"/><rect x="534.11" y="251.10" width="13.12" height="10.52" fill="#2e1010"/><rect x="547.18" y="251.10" width="13.12" height="10.52" fill="#600c0e"/><rect x="560.25" y="251.10" width="13.12" height="10.52" fill="#5a0c0e"/><rect x="573.32" y="251.10" width="13.12" height="10.52" fill="#2e1010"/><rect x="586.39" y="251.10" width="13.12" height="10.52" fill="#4a1010"/><rect x="599.46" y="251.10" width="13.12" height="10.52" fill="#8a1618"/><rect x="612.53" y="251.10" width="13.12" height="10.52" fill="#701010"/><rect x="625.60" y="251.10" width="13.12" height="10.52" fill="#4e1010"/><rect x="233.50" y="261.57" width="13.12" height="10.52" fill="#3a1010"/><rect x="246.57" y="261.57" width="13.12" height="10.52" fill="#2e1010"/><rect x="259.64" y="261.57" width="13.12" height="10.52" fill="#201010"/><rect x="272.71" y="261.57" width="13.12" height="10.52" fill="#501515"/><rect x="285.78" y="261.57" width="13.12" height="10.52" fill="#3a50a8"/><rect x="298.85" y="261.57" width="13.12" height="10.52" fill="#3a55a8"/><rect x="311.92" y="261.57" width="13.12" height="10.52" fill="#2a3090"/><rect x="324.99" y="261.57" width="13.12" height="10.52" fill="#252a80"/><rect x="338.06" y="261.57" width="13.12" height="10.52" fill="#30369a"/><rect x="351.13" y="261.57" width="13.12" height="10.52" fill="#0e0e1a"/><rect x="364.20" y="261.57" width="13.12" height="10.52" fill="#0a0a0e"/><rect x="377.27" y="261.57" width="13.12" height="10.52" fill="#060608"/><rect x="390.34" y="261.57" width="13.12" height="10.52" fill="#0a0a10"/><rect x="403.41" y="261.57" width="13.12" height="10.52" fill="#201010"/><rect x="416.48" y="261.57" width="13.12" height="10.52" fill="#060606"/><rect x="429.55" y="261.57" width="13.12" height="10.52" fill="#601414"/><rect x="442.62" y="261.57" width="13.12" height="10.52" fill="#2e1010"/><rect x="455.69" y="261.57" width="13.12" height="10.52" fill="#3a57ab"/><rect x="468.76" y="261.57" width="13.12" height="10.52" fill="#3a57ab"/><rect x="481.83" y="261.57" width="13.12" height="10.52" fill="#3a57ab"/><rect x="494.90" y="261.57" width="13.12" height="10.52" fill="#4a1010"/><rect x="507.97" y="261.57" width="13.12" height="10.52" fill="#0e1238"/><rect x="521.04" y="261.57" width="13.12" height="10.52" fill="#2a3088"/><rect x="534.11" y="261.57" width="13.12" height="10.52" fill="#0e1048"/><rect x="547.18" y="261.57" width="13.12" height="10.52" fill="#2a3088"/><rect x="560.25" y="261.57" width="13.12" height="10.52" fill="#2a3290"/><rect x="573.32" y="261.57" width="13.12" height="10.52" fill="#14124a"/><rect x="586.39" y="261.57" width="13.12" height="10.52" fill="#22226a"/><rect x="599.46" y="261.57" width="13.12" height="10.52" fill="#3a55a8"/><rect x="612.53" y="261.57" width="13.12" height="10.52" fill="#2e44a8"/><rect x="625.60" y="261.57" width="13.12" height="10.52" fill="#3048a8"/><rect x="233.50" y="272.04" width="13.12" height="10.52" fill="#10143a"/><rect x="246.57" y="272.04" width="13.12" height="10.52" fill="#0e1040"/><rect x="259.64" y="272.04" width="13.12" height="10.52" fill="#0e1238"/><rect x="272.71" y="272.04" width="13.12" height="10.52" fill="#10101e"/><rect x="285.78" y="272.04" width="13.12" height="10.52" fill="#2a3ea0"/><rect x="298.85" y="272.04" width="13.12" height="10.52" fill="#180a0a"/><rect x="311.92" y="272.04" width="13.12" height="10.52" fill="#180c0c"/><rect x="324.99" y="272.04" width="13.12" height="10.52" fill="#501515"/><rect x="338.06" y="272.04" width="13.12" height="10.52" fill="#6a0e0e"/><rect x="351.13" y="272.04" width="13.12" height="10.52" fill="#6a0e0e"/><rect x="364.20" y="272.04" width="13.12" height="10.52" fill="#0e0e1a"/><rect x="377.27" y="272.04" width="13.12" height="10.52" fill="#0e0e28"/><rect x="390.34" y="272.04" width="13.12" height="10.52" fill="#060606"/><rect x="403.41" y="272.04" width="13.12" height="10.52" fill="#0e0e30"/><rect x="416.48" y="272.04" width="13.12" height="10.52" fill="#0e0e18"/><rect x="429.55" y="272.04" width="13.12" height="10.52" fill="#2a2e80"/><rect x="442.62" y="272.04" width="13.12" height="10.52" fill="#0c1040"/><rect x="455.69" y="272.04" width="13.12" height="10.52" fill="#681010"/><rect x="468.76" y="272.04" width="13.12" height="10.52" fill="#701010"/><rect x="481.83" y="272.04" width="13.12" height="10.52" fill="#6a0a0a"/><rect x="494.90" y="272.04" width="13.12" height="10.52" fill="#22226a"/><rect x="507.97" y="272.04" width="13.12" height="10.52" fill="#381010"/><rect x="521.04" y="272.04" width="13.12" height="10.52" fill="#2e1010"/><rect x="534.11" y="272.04" width="13.12" height="10.52" fill="#5e0e10"/><rect x="547.18" y="272.04" width="13.12" height="10.52" fill="#4e1010"/><rect x="560.25" y="272.04" width="13.12" height="10.52" fill="#561010"/><rect x="573.32" y="272.04" width="13.12" height="10.52" fill="#2a0c0c"/><rect x="586.39" y="272.04" width="13.12" height="10.52" fill="#600c0e"/><rect x="599.46" y="272.04" width="13.12" height="10.52" fill="#640c0e"/><rect x="612.53" y="272.04" width="13.12" height="10.52" fill="#301010"/><rect x="625.60" y="272.04" width="13.12" height="10.52" fill="#501010"/><rect x="233.50" y="282.51" width="13.12" height="10.52" fill="#0a0606"/><rect x="246.57" y="282.51" width="13.12" height="10.52" fill="#2a1010"/><rect x="259.64" y="282.51" width="13.12" height="10.52" fill="#10101e"/><rect x="272.71" y="282.51" width="13.12" height="10.52" fill="#141448"/><rect x="285.78" y="282.51" width="13.12" height="10.52" fill="#c02428"/><rect x="298.85" y="282.51" width="13.12" height="10.52" fill="#b82228"/><rect x="311.92" y="282.51" width="13.12" height="10.52" fill="#1a1a5a"/><rect x="324.99" y="282.51" width="13.12" height="10.52" fill="#10101a"/><rect x="338.06" y="282.51" width="13.12" height="10.52" fill="#180a0a"/><rect x="351.13" y="282.51" width="13.12" height="10.52" fill="#181858"/><rect x="364.20" y="282.51" width="13.12" height="10.52" fill="#0a0a0e"/><rect x="377.27" y="282.51" width="13.12" height="10.52" fill="#1e0c0c"/><rect x="390.34" y="282.51" width="13.12" height="10.52" fill="#0e0e14"/><rect x="403.41" y="282.51" width="13.12" height="10.52" fill="#101024"/><rect x="416.48" y="282.51" width="13.12" height="10.52" fill="#060606"/><rect x="429.55" y="282.51" width="13.12" height="10.52" fill="#0a0a0a"/><rect x="442.62" y="282.51" width="13.12" height="10.52" fill="#2a1010"/><rect x="455.69" y="282.51" width="13.12" height="10.52" fill="#2e44a8"/><rect x="468.76" y="282.51" width="13.12" height="10.52" fill="#3a57ab"/><rect x="481.83" y="282.51" width="13.12" height="10.52" fill="#3a57ab"/><rect x="494.90" y="282.51" width="13.12" height="10.52" fill="#10102a"/><rect x="507.97" y="282.51" width="13.12" height="10.52" fill="#262a80"/><rect x="521.04" y="282.51" width="13.12" height="10.52" fill="#2a2e88"/><rect x="534.11" y="282.51" width="13.12" height="10.52" fill="#2e3ea8"/><rect x="547.18" y="282.51" width="13.12" height="10.52" fill="#3a55ab"/><rect x="560.25" y="282.51" width="13.12" height="10.52" fill="#3048a8"/><rect x="573.32" y="282.51" width="13.12" height="10.52" fill="#0c1040"/><rect x="586.39" y="282.51" width="13.12" height="10.52" fill="#3a55ab"/><rect x="599.46" y="282.51" width="13.12" height="10.52" fill="#3a55ab"/><rect x="612.53" y="282.51" width="13.12" height="10.52" fill="#262a80"/><rect x="625.60" y="282.51" width="13.12" height="10.52" fill="#22226a"/><rect x="233.50" y="292.98" width="13.12" height="10.52" fill="#ee2224"/><rect x="246.57" y="292.98" width="13.12" height="10.52" fill="#ee2224"/><rect x="259.64" y="292.98" width="13.12" height="10.52" fill="#ee2224"/><rect x="272.71" y="292.98" width="13.12" height="10.52" fill="#ee2224"/><rect x="285.78" y="292.98" width="13.12" height="10.52" fill="#6a0e0e"/><rect x="298.85" y="292.98" width="13.12" height="10.52" fill="#c82428"/><rect x="311.92" y="292.98" width="13.12" height="10.52" fill="#a01a1e"/><rect x="324.99" y="292.98" width="13.12" height="10.52" fill="#d42428"/><rect x="338.06" y="292.98" width="13.12" height="10.52" fill="#aa1c20"/><rect x="351.13" y="292.98" width="13.12" height="10.52" fill="#12124a"/><rect x="364.20" y="292.98" width="13.12" height="10.52" fill="#3a4ca4"/><rect x="377.27" y="292.98" width="13.12" height="10.52" fill="#3a4ea6"/><rect x="390.34" y="292.98" width="13.12" height="10.52" fill="#10104a"/><rect x="403.41" y="292.98" width="13.12" height="10.52" fill="#2a2e8a"/><rect x="416.48" y="292.98" width="13.12" height="10.52" fill="#121238"/><rect x="429.55" y="292.98" width="13.12" height="10.52" fill="#2a2a78"/><rect x="442.62" y="292.98" width="13.12" height="10.52" fill="#0e0e1a"/><rect x="455.69" y="292.98" width="13.12" height="10.52" fill="#3a55ab"/><rect x="468.76" y="292.98" width="13.12" height="10.52" fill="#3a55ab"/><rect x="481.83" y="292.98" width="13.12" height="10.52" fill="#3a55ab"/><rect x="494.90" y="292.98" width="13.12" height="10.52" fill="#3048a8"/><rect x="507.97" y="292.98" width="13.12" height="10.52" fill="#3a55ab"/><rect x="521.04" y="292.98" width="13.12" height="10.52" fill="#3a57ab"/><rect x="534.11" y="292.98" width="13.12" height="10.52" fill="#3040a8"/><rect x="547.18" y="292.98" width="13.12" height="10.52" fill="#3a55ab"/><rect x="560.25" y="292.98" width="13.12" height="10.52" fill="#3a55ab"/><rect x="573.32" y="292.98" width="13.12" height="10.52" fill="#3048a8"/><rect x="586.39" y="292.98" width="13.12" height="10.52" fill="#3a55ab"/><rect x="599.46" y="292.98" width="13.12" height="10.52" fill="#3a55ab"/><rect x="612.53" y="292.98" width="13.12" height="10.52" fill="#3a55ab"/><rect x="625.60" y="292.98" width="13.12" height="10.52" fill="#3a55ab"/><rect x="233.50" y="303.45" width="13.12" height="10.52" fill="#d82228"/><rect x="246.57" y="303.45" width="13.12" height="10.52" fill="#ee2224"/><rect x="259.64" y="303.45" width="13.12" height="10.52" fill="#ee2224"/><rect x="272.71" y="303.45" width="13.12" height="10.52" fill="#ee2224"/><rect x="285.78" y="303.45" width="13.12" height="10.52" fill="#dc2226"/><rect x="298.85" y="303.45" width="13.12" height="10.52" fill="#a81e22"/><rect x="311.92" y="303.45" width="13.12" height="10.52" fill="#c42226"/><rect x="324.99" y="303.45" width="13.12" height="10.52" fill="#b02026"/><rect x="338.06" y="303.45" width="13.12" height="10.52" fill="#ee2224"/><rect x="351.13" y="303.45" width="13.12" height="10.52" fill="#2e44a8"/><rect x="364.20" y="303.45" width="13.12" height="10.52" fill="#22205e"/><rect x="377.27" y="303.45" width="13.12" height="10.52" fill="#121250"/><rect x="390.34" y="303.45" width="13.12" height="10.52" fill="#2a3090"/><rect x="403.41" y="303.45" width="13.12" height="10.52" fill="#3040a0"/><rect x="416.48" y="303.45" width="13.12" height="10.52" fill="#0e0e14"/><rect x="429.55" y="303.45" width="13.12" height="10.52" fill="#1e1e60"/><rect x="442.62" y="303.45" width="13.12" height="10.52" fill="#2a3090"/><rect x="455.69" y="303.45" width="13.12" height="10.52" fill="#2a2a80"/><rect x="468.76" y="303.45" width="13.12" height="10.52" fill="#3a55ab"/><rect x="481.83" y="303.45" width="13.12" height="10.52" fill="#3a55ab"/><rect x="494.90" y="303.45" width="13.12" height="10.52" fill="#24226a"/><rect x="507.97" y="303.45" width="13.12" height="10.52" fill="#0e0e40"/><rect x="521.04" y="303.45" width="13.12" height="10.52" fill="#3048a8"/><rect x="534.11" y="303.45" width="13.12" height="10.52" fill="#3048a8"/><rect x="547.18" y="303.45" width="13.12" height="10.52" fill="#3a55ab"/><rect x="560.25" y="303.45" width="13.12" height="10.52" fill="#3a55ab"/><rect x="573.32" y="303.45" width="13.12" height="10.52" fill="#24246e"/><rect x="586.39" y="303.45" width="13.12" height="10.52" fill="#3a55ab"/><rect x="599.46" y="303.45" width="13.12" height="10.52" fill="#3a55ab"/><rect x="612.53" y="303.45" width="13.12" height="10.52" fill="#3048a8"/><rect x="625.60" y="303.45" width="13.12" height="10.52" fill="#3a55ab"/><rect x="233.50" y="313.92" width="13.12" height="10.52" fill="#b42026"/><rect x="246.57" y="313.92" width="13.12" height="10.52" fill="#ee2224"/><rect x="259.64" y="313.92" width="13.12" height="10.52" fill="#ee2224"/><rect x="272.71" y="313.92" width="13.12" height="10.52" fill="#ee2224"/><rect x="285.78" y="313.92" width="13.12" height="10.52" fill="#000000"/><rect x="298.85" y="313.92" width="13.12" height="10.52" fill="#140808"/><rect x="311.92" y="313.92" width="13.12" height="10.52" fill="#901a1e"/><rect x="324.99" y="313.92" width="13.12" height="10.52" fill="#e82226"/><rect x="338.06" y="313.92" width="13.12" height="10.52" fill="#ee2224"/><rect x="351.13" y="313.92" width="13.12" height="10.52" fill="#252a78"/><rect x="364.20" y="313.92" width="13.12" height="10.52" fill="#2a2a78"/><rect x="377.27" y="313.92" width="13.12" height="10.52" fill="#22226a"/><rect x="390.34" y="313.92" width="13.12" height="10.52" fill="#16145a"/><rect x="403.41" y="313.92" width="13.12" height="10.52" fill="#22226a"/><rect x="416.48" y="313.92" width="13.12" height="10.52" fill="#10104a"/><rect x="429.55" y="313.92" width="13.12" height="10.52" fill="#2e38a0"/><rect x="442.62" y="313.92" width="13.12" height="10.52" fill="#20205e"/><rect x="455.69" y="313.92" width="13.12" height="10.52" fill="#3a55ab"/><rect x="468.76" y="313.92" width="13.12" height="10.52" fill="#3a55ab"/><rect x="481.83" y="313.92" width="13.12" height="10.52" fill="#3a55ab"/><rect x="494.90" y="313.92" width="13.12" height="10.52" fill="#4a1010"/><rect x="507.97" y="313.92" width="13.12" height="10.52" fill="#10104a"/><rect x="521.04" y="313.92" width="13.12" height="10.52" fill="#1e1a58"/><rect x="534.11" y="313.92" width="13.12" height="10.52" fill="#10101e"/><rect x="547.18" y="313.92" width="13.12" height="10.52" fill="#262a78"/><rect x="560.25" y="313.92" width="13.12" height="10.52" fill="#1e1e60"/><rect x="573.32" y="313.92" width="13.12" height="10.52" fill="#2e3ea8"/><rect x="586.39" y="313.92" width="13.12" height="10.52" fill="#3a55ab"/><rect x="599.46" y="313.92" width="13.12" height="10.52" fill="#3a55ab"/><rect x="612.53" y="313.92" width="13.12" height="10.52" fill="#262a80"/><rect x="625.60" y="313.92" width="13.12" height="10.52" fill="#2a3090"/><rect x="233.50" y="324.39" width="13.12" height="10.52" fill="#000000"/><rect x="246.57" y="324.39" width="13.12" height="10.52" fill="#000000"/><rect x="259.64" y="324.39" width="13.12" height="10.52" fill="#401010"/><rect x="272.71" y="324.39" width="13.12" height="10.52" fill="#301010"/><rect x="285.78" y="324.39" width="13.12" height="10.52" fill="#901a1e"/><rect x="298.85" y="324.39" width="13.12" height="10.52" fill="#7a1010"/><rect x="311.92" y="324.39" width="13.12" height="10.52" fill="#4a1010"/><rect x="324.99" y="324.39" width="13.12" height="10.52" fill="#c42226"/><rect x="338.06" y="324.39" width="13.12" height="10.52" fill="#ee2224"/><rect x="351.13" y="324.39" width="13.12" height="10.52" fill="#101028"/><rect x="364.20" y="324.39" width="13.12" height="10.52" fill="#262a80"/><rect x="377.27" y="324.39" width="13.12" height="10.52" fill="#0e1448"/><rect x="390.34" y="324.39" width="13.12" height="10.52" fill="#2e40a8"/><rect x="403.41" y="324.39" width="13.12" height="10.52" fill="#1c1a5a"/><rect x="416.48" y="324.39" width="13.12" height="10.52" fill="#10101e"/><rect x="429.55" y="324.39" width="13.12" height="10.52" fill="#2a3090"/><rect x="442.62" y="324.39" width="13.12" height="10.52" fill="#2a3aa0"/><rect x="455.69" y="324.39" width="13.12" height="10.52" fill="#3a55ab"/><rect x="468.76" y="324.39" width="13.12" height="10.52" fill="#3a55ab"/><rect x="481.83" y="324.39" width="13.12" height="10.52" fill="#3a55ab"/><rect x="494.90" y="324.39" width="13.12" height="10.52" fill="#3448a8"/><rect x="507.97" y="324.39" width="13.12" height="10.52" fill="#3a50a8"/><rect x="521.04" y="324.39" width="13.12" height="10.52" fill="#3a55ab"/><rect x="534.11" y="324.39" width="13.12" height="10.52" fill="#3a55ab"/><rect x="547.18" y="324.39" width="13.12" height="10.52" fill="#3a55ab"/><rect x="560.25" y="324.39" width="13.12" height="10.52" fill="#3a55ab"/><rect x="573.32" y="324.39" width="13.12" height="10.52" fill="#3a55ab"/><rect x="586.39" y="324.39" width="13.12" height="10.52" fill="#3a55ab"/><rect x="599.46" y="324.39" width="13.12" height="10.52" fill="#3a55ab"/><rect x="612.53" y="324.39" width="13.12" height="10.52" fill="#3a55ab"/><rect x="625.60" y="324.39" width="13.12" height="10.52" fill="#3a55ab"/><rect x="233.50" y="334.86" width="13.12" height="10.52" fill="#140a0a"/><rect x="246.57" y="334.86" width="13.12" height="10.52" fill="#401414"/><rect x="259.64" y="334.86" width="13.12" height="10.52" fill="#0e0e1a"/><rect x="272.71" y="334.86" width="13.12" height="10.52" fill="#281010"/><rect x="285.78" y="334.86" width="13.12" height="10.52" fill="#381212"/><rect x="298.85" y="334.86" width="13.12" height="10.52" fill="#3a1414"/><rect x="311.92" y="334.86" width="13.12" height="10.52" fill="#2a1010"/><rect x="324.99" y="334.86" width="13.12" height="10.52" fill="#7a1416"/><rect x="338.06" y="334.86" width="13.12" height="10.52" fill="#ee2224"/><rect x="351.13" y="334.86" width="13.12" height="10.52" fill="#262a80"/><rect x="364.20" y="334.86" width="13.12" height="10.52" fill="#0c1040"/><rect x="377.27" y="334.86" width="13.12" height="10.52" fill="#0e0e28"/><rect x="390.34" y="334.86" width="13.12" height="10.52" fill="#1e1c60"/><rect x="403.41" y="334.86" width="13.12" height="10.52" fill="#2a2e88"/><rect x="416.48" y="334.86" width="13.12" height="10.52" fill="#0c0c1c"/><rect x="429.55" y="334.86" width="13.12" height="10.52" fill="#2a2e88"/><rect x="442.62" y="334.86" width="13.12" height="10.52" fill="#2a3090"/><rect x="455.69" y="334.86" width="13.12" height="10.52" fill="#3a55ab"/><rect x="468.76" y="334.86" width="13.12" height="10.52" fill="#3a55ab"/><rect x="481.83" y="334.86" width="13.12" height="10.52" fill="#3a55ab"/><rect x="494.90" y="334.86" width="13.12" height="10.52" fill="#4a1010"/><rect x="507.97" y="334.86" width="13.12" height="10.52" fill="#10104a"/><rect x="521.04" y="334.86" width="13.12" height="10.52" fill="#0e0e28"/><rect x="534.11" y="334.86" width="13.12" height="10.52" fill="#22226a"/><rect x="547.18" y="334.86" width="13.12" height="10.52" fill="#2e44a8"/><rect x="560.25" y="334.86" width="13.12" height="10.52" fill="#3048a8"/><rect x="573.32" y="334.86" width="13.12" height="10.52" fill="#3a55ab"/><rect x="586.39" y="334.86" width="13.12" height="10.52" fill="#3a55ab"/><rect x="599.46" y="334.86" width="13.12" height="10.52" fill="#3a55ab"/><rect x="612.53" y="334.86" width="13.12" height="10.52" fill="#2e44a8"/><rect x="625.60" y="334.86" width="13.12" height="10.52" fill="#3a55ab"/>
<path d="M246.57,251.10V345.33M259.64,251.10V345.33M272.71,251.10V345.33M285.78,251.10V345.33M298.85,251.10V345.33M311.92,251.10V345.33M324.99,251.10V345.33M338.06,251.10V345.33M351.13,251.10V345.33M364.20,251.10V345.33M377.27,251.10V345.33M390.34,251.10V345.33M403.41,251.10V345.33M416.48,251.10V345.33M429.55,251.10V345.33M442.62,251.10V345.33M455.69,251.10V345.33M468.76,251.10V345.33M481.83,251.10V345.33M494.90,251.10V345.33M507.97,251.10V345.33M521.04,251.10V345.33M534.11,251.10V345.33M547.18,251.10V345.33M560.25,251.10V345.33M573.32,251.10V345.33M586.39,251.10V345.33M599.46,251.10V345.33M612.53,251.10V345.33M625.60,251.10V345.33M233.50,261.57H638.67M233.50,272.04H638.67M233.50,282.51H638.67M233.50,292.98H638.67M233.50,303.45H638.67M233.50,313.92H638.67M233.50,324.39H638.67M233.50,334.86H638.67" stroke="#ffffff" stroke-opacity="0.13" stroke-width="0.5" fill="none"/>
<text transform="translate(240.44,247.6) rotate(-45)">Fumarate</text>
<text transform="translate(253.50,247.6) rotate(-45)">Phosphoserine</text>
<text transform="translate(266.57,247.6) rotate(-45)">dCDP</text>
<text transform="translate(279.64,247.6) rotate(-45)">Hexose</text>
<text transform="translate(292.71,247.6) rotate(-45)">Adenosine</text>
<text transform="translate(305.79,247.6) rotate(-45)">Cytidine</text>
<text transform="translate(318.86,247.6) rotate(-45)">α-Ketoglutarate</text>
<text transform="translate(331.93,247.6) rotate(-45)">Adenine</text>
<text transform="translate(345.00,247.6) rotate(-45)">Cystathionine</text>
<text transform="translate(358.06,247.6) rotate(-45)">DHAP</text>
<text transform="translate(371.13,247.6) rotate(-45)">FAD</text>
<text transform="translate(384.20,247.6) rotate(-45)">GSH</text>
<text transform="translate(397.28,247.6) rotate(-45)">FBP</text>
<text transform="translate(410.34,247.6) rotate(-45)">Hexose phosphate</text>
<text transform="translate(423.42,247.6) rotate(-45)">Aspartate</text>
<text transform="translate(436.49,247.6) rotate(-45)">2-Deoxyuridine</text>
<text transform="translate(449.56,247.6) rotate(-45)">Serine</text>
<text transform="translate(462.62,247.6) rotate(-45)">CTP</text>
<text transform="translate(475.69,247.6) rotate(-45)">ATP</text>
<text transform="translate(488.77,247.6) rotate(-45)">ITP</text>
<text transform="translate(501.83,247.6) rotate(-45)">UMP</text>
<text transform="translate(514.90,247.6) rotate(-45)">NAD</text>
<text transform="translate(527.97,247.6) rotate(-45)">NADP</text>
<text transform="translate(541.04,247.6) rotate(-45)">GDP</text>
<text transform="translate(554.12,247.6) rotate(-45)">ADP</text>
<text transform="translate(567.18,247.6) rotate(-45)">IDP</text>
<text transform="translate(580.25,247.6) rotate(-45)">CDP</text>
<text transform="translate(593.32,247.6) rotate(-45)">NADH</text>
<text transform="translate(606.39,247.6) rotate(-45)">dTTP</text>
<text transform="translate(619.46,247.6) rotate(-45)">cAMP</text>
<text transform="translate(632.53,247.6) rotate(-45)">dADP</text>
<line x1="229.60" y1="253.20" x2="229.60" y2="290.50" stroke="#222" stroke-width="0.9" />
<line x1="229.60" y1="295.60" x2="229.60" y2="342.40" stroke="#222" stroke-width="0.9" />
<text x="224.20" y="269.30" text-anchor="end" >Control</text>
<text x="224.20" y="278.30" text-anchor="end" >diet</text>
<text x="224.20" y="316.80" text-anchor="end" >–SG</text>
<text x="224.20" y="325.60" text-anchor="end" >diet</text>
<defs><linearGradient id="hcb" x1="0" y1="0" x2="0" y2="1"><stop offset="0" stop-color="#ee1c24"/><stop offset="0.11" stop-color="#d02028"/><stop offset="0.24" stop-color="#9a1418"/><stop offset="0.34" stop-color="#5a0c0c"/><stop offset="0.42" stop-color="#2a0808"/><stop offset="0.5" stop-color="#000"/><stop offset="0.58" stop-color="#0c0c1c"/><stop offset="0.65" stop-color="#141440"/><stop offset="0.73" stop-color="#202870"/><stop offset="0.82" stop-color="#283490"/><stop offset="0.9" stop-color="#2e40a0"/><stop offset="1" stop-color="#3a55a8"/></linearGradient></defs>
<rect x="646.90" y="250.80" width="12.30" height="94.40" fill="url(#hcb)" />
<text x="663.80" y="259.60" >2</text>
<text x="663.80" y="301.60" >0</text>
<text x="663.00" y="343.80" >−2</text>
<text transform="translate(677.9,298.3) rotate(90)" text-anchor="middle">Abundance <tspan font-style="italic">z</tspan> score</text>
<text x="0.00" y="374.00" font-size="11.5" font-weight="bold" fill="#000" >i</text>
<line x1="36.80" y1="367.20" x2="36.80" y2="485.30" stroke="#444" stroke-width="0.9" />
<line x1="32.60" y1="485.30" x2="36.80" y2="485.30" stroke="#3a3a3a" stroke-width="0.8" />
<text x="29.20" y="488.20" text-anchor="end" >0</text>
<line x1="32.60" y1="462.86" x2="36.80" y2="462.86" stroke="#3a3a3a" stroke-width="0.8" />
<text x="29.20" y="465.76" text-anchor="end" >20</text>
<line x1="32.60" y1="440.42" x2="36.80" y2="440.42" stroke="#3a3a3a" stroke-width="0.8" />
<text x="29.20" y="443.32" text-anchor="end" >40</text>
<line x1="32.60" y1="417.98" x2="36.80" y2="417.98" stroke="#3a3a3a" stroke-width="0.8" />
<text x="29.20" y="420.88" text-anchor="end" >60</text>
<line x1="32.60" y1="395.54" x2="36.80" y2="395.54" stroke="#3a3a3a" stroke-width="0.8" />
<text x="29.20" y="398.44" text-anchor="end" >80</text>
<line x1="32.60" y1="373.10" x2="36.80" y2="373.10" stroke="#3a3a3a" stroke-width="0.8" />
<text x="29.20" y="376.00" text-anchor="end" >100</text>
<line x1="36.80" y1="485.30" x2="214.90" y2="485.30" stroke="#3a3a3a" stroke-width="0.8" />
<line x1="36.80" y1="485.30" x2="36.80" y2="489.50" stroke="#3a3a3a" stroke-width="0.8" />
<text x="36.80" y="499.60" text-anchor="middle" >0</text>
<line x1="71.53" y1="485.30" x2="71.53" y2="489.50" stroke="#3a3a3a" stroke-width="0.8" />
<text x="71.53" y="499.60" text-anchor="middle" >50</text>
<line x1="106.25" y1="485.30" x2="106.25" y2="489.50" stroke="#3a3a3a" stroke-width="0.8" />
<text x="106.25" y="499.60" text-anchor="middle" >100</text>
<line x1="140.97" y1="485.30" x2="140.97" y2="489.50" stroke="#3a3a3a" stroke-width="0.8" />
<text x="140.97" y="499.60" text-anchor="middle" >150</text>
<line x1="175.70" y1="485.30" x2="175.70" y2="489.50" stroke="#3a3a3a" stroke-width="0.8" />
<text x="175.70" y="499.60" text-anchor="middle" >200</text>
<line x1="210.43" y1="485.30" x2="210.43" y2="489.50" stroke="#3a3a3a" stroke-width="0.8" />
<text x="210.43" y="499.60" text-anchor="middle" >250</text>
<text x="126.35" y="511.60" text-anchor="middle" >Time (days)</text>
<text transform="translate(8.00,426.9) rotate(-90)" text-anchor="middle">Survival (%)</text>
<path d="M36.8,373.1 H71.8 V388.8 H92.8 V405 H95.3 V421.3 H104.5 V437.2 H120.4 V469.4 H126.9 V485.3" fill="none" stroke="#333333" stroke-width="0.9"/>
<path d="M36.8,373.1 H77.2 V387.1 H109.6 V401.2 H124.5 V414.9 H127.9 V429.4 H130.5 V443 H131.8 V471.1 H145.3 V485.3" fill="none" stroke="#e8262c" stroke-width="0.9"/>
<path d="M36.8,373.1 H102.5 V385.9 H109.3 V398.2 H139 V409.7 H145 V435.7 H165.4 V447.3 H168 V473.2 H213.2 V485.3" fill="none" stroke="#e8262c" stroke-width="1.7" stroke-dasharray="1.7 1.7"/>
<path d="M36.8,373.1 H86.3 V387.1 H105 V401.2 H118.9 V414.9 H127 V428.5 H130.1 V443 H135.6 V457.5 H145 V471.1 H150 V485.3" fill="none" stroke="#111" stroke-width="1.7" stroke-dasharray="1.7 1.7"/>
<line x1="44.90" y1="521.50" x2="55.30" y2="521.50" stroke="#333333" stroke-width="1.0" />
<text x="59.30" y="523.90" >Control diet</text>
<line x1="44.90" y1="531.50" x2="55.30" y2="531.50" stroke="#e8262c" stroke-width="1.0" />
<text x="59.30" y="534.10" >–SG diet</text>
<line x1="44.90" y1="541.40" x2="55.30" y2="541.40" stroke="#111" stroke-width="1.7" stroke-dasharray="1.7 1.7"/>
<text x="59.30" y="544.30" >Control diet, TMZ + RT</text>
<line x1="44.90" y1="551.60" x2="55.30" y2="551.60" stroke="#e8262c" stroke-width="1.7" stroke-dasharray="1.7 1.7"/>
<text x="59.30" y="554.50" >–SG diet, TMZ + RT</text>
<path d="M102.60,521.20H108.50V531.40H102.60" fill="none" stroke="#333" stroke-width="0.9"/>
<text x="110.90" y="528.90" text-anchor="start"><tspan font-style="italic">P</tspan> = 0.01</text>
<path d="M143.00,521.20H148.60V541.60H143.00" fill="none" stroke="#333" stroke-width="0.9"/>
<text x="151.80" y="533.70" text-anchor="start"><tspan font-style="italic">P</tspan> = 0.04</text>
<path d="M153.20,541.60H158.30V551.80H153.20" fill="none" stroke="#333" stroke-width="0.9"/>
<text x="162.30" y="549.30" text-anchor="start"><tspan font-style="italic">P</tspan> = 0.04</text>
<text x="233.50" y="374.00" font-size="11.5" font-weight="bold" fill="#000" >j</text>
<line x1="268.00" y1="367.20" x2="268.00" y2="485.30" stroke="#c4c4c4" stroke-width="1.6" />
<line x1="263.80" y1="485.30" x2="268.00" y2="485.30" stroke="#3a3a3a" stroke-width="0.8" />
<text x="260.40" y="488.20" text-anchor="end" >0</text>
<line x1="263.80" y1="462.86" x2="268.00" y2="462.86" stroke="#3a3a3a" stroke-width="0.8" />
<text x="260.40" y="465.76" text-anchor="end" >20</text>
<line x1="263.80" y1="440.42" x2="268.00" y2="440.42" stroke="#3a3a3a" stroke-width="0.8" />
<text x="260.40" y="443.32" text-anchor="end" >40</text>
<line x1="263.80" y1="417.98" x2="268.00" y2="417.98" stroke="#3a3a3a" stroke-width="0.8" />
<text x="260.40" y="420.88" text-anchor="end" >60</text>
<line x1="263.80" y1="395.54" x2="268.00" y2="395.54" stroke="#3a3a3a" stroke-width="0.8" />
<text x="260.40" y="398.44" text-anchor="end" >80</text>
<line x1="263.80" y1="373.10" x2="268.00" y2="373.10" stroke="#3a3a3a" stroke-width="0.8" />
<text x="260.40" y="376.00" text-anchor="end" >100</text>
<line x1="268.00" y1="485.30" x2="446.00" y2="485.30" stroke="#3a3a3a" stroke-width="0.8" />
<line x1="268.00" y1="485.30" x2="268.00" y2="489.50" stroke="#3a3a3a" stroke-width="0.8" />
<text x="268.00" y="499.60" text-anchor="middle" >0</text>
<line x1="303.48" y1="485.30" x2="303.48" y2="489.50" stroke="#3a3a3a" stroke-width="0.8" />
<text x="303.48" y="499.60" text-anchor="middle" >25</text>
<line x1="338.96" y1="485.30" x2="338.96" y2="489.50" stroke="#3a3a3a" stroke-width="0.8" />
<text x="338.96" y="499.60" text-anchor="middle" >50</text>
<line x1="374.44" y1="485.30" x2="374.44" y2="489.50" stroke="#3a3a3a" stroke-width="0.8" />
<text x="374.44" y="499.60" text-anchor="middle" >75</text>
<line x1="409.92" y1="485.30" x2="409.92" y2="489.50" stroke="#3a3a3a" stroke-width="0.8" />
<text x="409.92" y="499.60" text-anchor="middle" >100</text>
<line x1="445.40" y1="485.30" x2="445.40" y2="489.50" stroke="#3a3a3a" stroke-width="0.8" />
<text x="445.40" y="499.60" text-anchor="middle" >125</text>
<text x="357.50" y="511.60" text-anchor="middle" >Time (days)</text>
<text transform="translate(240.00,426.9) rotate(-90)" text-anchor="middle">Survival (%)</text>
<path d="M268,373.1 H300.8 V379 H301.7 V388.4 H302.9 V396.9 H304.6 V405.4 H307.1 V413.1 H308.8 V420.8 H310.2 V429.3 H311.7 V437 H313.1 V445.5 H314.5 V454 H316.2 V461.3 H318.7 V485.3" fill="none" stroke="#333333" stroke-width="0.9"/>
<path d="M268,373.1 H301.2 V379.9 H307.7 V388.4 H310.6 V396.9 H313.1 V413.1 H316.5 V420.8 H318.2 V429.3 H319.1 V445.5 H320.8 V453.5 H330.7 V461.3 H331.8 V485.3" fill="none" stroke="#e8262c" stroke-width="0.9"/>
<path d="M268,373.1 H328.4 V385 H345.8 V397.8 H377.3 V409.7 H378.6 V422.5 H396.8 V435.6 H407.1 V448.9 H408.8 V460.5 H422.9 V473.1 H441.5 V485.3" fill="none" stroke="#e8262c" stroke-width="1.7" stroke-dasharray="1.7 1.7"/>
<path d="M268,373.1 H325 V393 H336.1 V402.9 H342.9 V413.1 H347.2 V423.3 H352.5 V433.5 H359.9 V444.6 H375.6 V454.8 H388.8 V465.1 H392.6 V475.3 H408.8 V485.3" fill="none" stroke="#111" stroke-width="1.7" stroke-dasharray="1.7 1.7"/>
<line x1="277.10" y1="521.50" x2="287.50" y2="521.50" stroke="#333333" stroke-width="1.0" />
<text x="291.50" y="523.90" >Control diet</text>
<line x1="277.10" y1="531.50" x2="287.50" y2="531.50" stroke="#e8262c" stroke-width="1.0" />
<text x="291.50" y="534.10" >–SG diet</text>
<line x1="277.10" y1="541.40" x2="287.50" y2="541.40" stroke="#111" stroke-width="1.7" stroke-dasharray="1.7 1.7"/>
<text x="291.50" y="544.30" >Control diet, TMZ + RT</text>
<line x1="277.10" y1="551.60" x2="287.50" y2="551.60" stroke="#e8262c" stroke-width="1.7" stroke-dasharray="1.7 1.7"/>
<text x="291.50" y="554.50" >–SG diet, TMZ + RT</text>
<path d="M335.00,521.20H342.50V531.40H335.00" fill="none" stroke="#333" stroke-width="0.9"/>
<text x="345.20" y="528.90" text-anchor="start"><tspan font-style="italic">P</tspan> = 0.01</text>
<path d="M374.50,521.20H380.10V541.60H374.50" fill="none" stroke="#333" stroke-width="0.9"/>
<text x="383.50" y="533.70" text-anchor="start"><tspan font-style="italic">P</tspan> &lt; 0.0001</text>
<path d="M384.00,541.60H389.50V551.80H384.00" fill="none" stroke="#333" stroke-width="0.9"/>
<text x="394.60" y="549.30" text-anchor="start"><tspan font-style="italic">P</tspan> = 0.04</text>
<text x="466.50" y="374.00" font-size="11.5" font-weight="bold" fill="#000" >k</text>
<line x1="500.30" y1="367.20" x2="500.30" y2="485.30" stroke="#444" stroke-width="0.9" />
<line x1="496.10" y1="485.30" x2="500.30" y2="485.30" stroke="#3a3a3a" stroke-width="0.8" />
<text x="492.70" y="488.20" text-anchor="end" >0</text>
<line x1="496.10" y1="462.86" x2="500.30" y2="462.86" stroke="#3a3a3a" stroke-width="0.8" />
<text x="492.70" y="465.76" text-anchor="end" >20</text>
<line x1="496.10" y1="440.42" x2="500.30" y2="440.42" stroke="#3a3a3a" stroke-width="0.8" />
<text x="492.70" y="443.32" text-anchor="end" >40</text>
<line x1="496.10" y1="417.98" x2="500.30" y2="417.98" stroke="#3a3a3a" stroke-width="0.8" />
<text x="492.70" y="420.88" text-anchor="end" >60</text>
<line x1="496.10" y1="395.54" x2="500.30" y2="395.54" stroke="#3a3a3a" stroke-width="0.8" />
<text x="492.70" y="398.44" text-anchor="end" >80</text>
<line x1="496.10" y1="373.10" x2="500.30" y2="373.10" stroke="#3a3a3a" stroke-width="0.8" />
<text x="492.70" y="376.00" text-anchor="end" >100</text>
<line x1="500.30" y1="485.30" x2="678.30" y2="485.30" stroke="#3a3a3a" stroke-width="0.8" />
<line x1="500.30" y1="485.30" x2="500.30" y2="489.50" stroke="#3a3a3a" stroke-width="0.8" />
<text x="500.30" y="499.60" text-anchor="middle" >0</text>
<line x1="535.90" y1="485.30" x2="535.90" y2="489.50" stroke="#3a3a3a" stroke-width="0.8" />
<text x="535.90" y="499.60" text-anchor="middle" >25</text>
<line x1="571.50" y1="485.30" x2="571.50" y2="489.50" stroke="#3a3a3a" stroke-width="0.8" />
<text x="571.50" y="499.60" text-anchor="middle" >50</text>
<line x1="607.10" y1="485.30" x2="607.10" y2="489.50" stroke="#3a3a3a" stroke-width="0.8" />
<text x="607.10" y="499.60" text-anchor="middle" >75</text>
<line x1="642.70" y1="485.30" x2="642.70" y2="489.50" stroke="#3a3a3a" stroke-width="0.8" />
<text x="642.70" y="499.60" text-anchor="middle" >100</text>
<line x1="678.30" y1="485.30" x2="678.30" y2="489.50" stroke="#3a3a3a" stroke-width="0.8" />
<text x="678.30" y="499.60" text-anchor="middle" >125</text>
<text x="589.80" y="511.60" text-anchor="middle" >Time (days)</text>
<text transform="translate(473.00,426.9) rotate(-90)" text-anchor="middle">Survival (%)</text>
<path d="M500.3,373.1 H544.4 V379.1 H545.6 V384.2 H546.6 V390.1 H547.8 V397.8 H549.5 V403.8 H557.2 V410.6 H559.7 V416.6 H562.3 V422.6 H564 V428.5 H565.7 V435.3 H567.4 V442.2 H568.8 V448.1 H570.5 V454.1 H574.2 V466.9 H576.8 V473.7 H580.2 V479.7 H594.7 V485.3" fill="none" stroke="#333333" stroke-width="0.9"/>
<path d="M500.3,373.1 H547.8 V378.2 H552.1 V383.3 H553.4 V389.3 H556.3 V399.5 H558.5 V405.5 H560.6 V411.5 H562.3 V416.6 H564.3 V423.4 H565.7 V431.1 H568.3 V437.1 H570.8 V443 H572.5 V454.1 H580.2 V459.2 H582.4 V464.3 H589.9 V474.6 H593.8 V479.7 H598.5 V485.3" fill="none" stroke="#e8262c" stroke-width="0.9"/>
<path d="M500.3,373.1 H611.2 V390.1 H615.1 V395.3 H616.3 V400.4 H618.5 V414.9 H620.9 V433.6 H633.9 V449 H635.9 V453.3 H637.3 V459.6 H645 V476.6 H649.2 V485.3" fill="none" stroke="#e8262c" stroke-width="1.7" stroke-dasharray="1.7 1.7"/>
<path d="M500.3,373.1 H546.9 V380.8 H548.6 V385 H549.5 V389.3 H550.4 V396.1 H551.7 V406.7 H562.3 V417.4 H599.8 V429.4 H609.5 V440.8 H620.9 V451.6 H623.7 V463.5 H628.3 V485.3" fill="none" stroke="#111" stroke-width="1.7" stroke-dasharray="1.7 1.7"/>
<line x1="508.80" y1="521.50" x2="519.20" y2="521.50" stroke="#333333" stroke-width="1.0" />
<text x="523.20" y="523.90" >Control diet</text>
<line x1="508.80" y1="531.50" x2="519.20" y2="531.50" stroke="#e8262c" stroke-width="1.0" />
<text x="523.20" y="534.10" >–SG diet</text>
<line x1="508.80" y1="541.40" x2="519.20" y2="541.40" stroke="#111" stroke-width="1.7" stroke-dasharray="1.7 1.7"/>
<text x="523.20" y="544.30" >Control diet, TMZ + RT</text>
<line x1="508.80" y1="551.60" x2="519.20" y2="551.60" stroke="#e8262c" stroke-width="1.7" stroke-dasharray="1.7 1.7"/>
<text x="523.20" y="554.50" >–SG diet, TMZ + RT</text>
<path d="M567.00,521.20H574.20V531.40H567.00" fill="none" stroke="#333" stroke-width="0.9"/>
<text x="576.90" y="528.90" text-anchor="start"><tspan font-style="italic">P</tspan> = 0.3</text>
<path d="M606.50,521.20H612.20V541.60H606.50" fill="none" stroke="#333" stroke-width="0.9"/>
<text x="615.20" y="533.70" text-anchor="start"><tspan font-style="italic">P</tspan> = 0.007</text>
<path d="M615.50,541.60H621.20V551.80H615.50" fill="none" stroke="#333" stroke-width="0.9"/>
<text x="623.90" y="549.30" text-anchor="start"><tspan font-style="italic">P</tspan> = 0.01</text>
<text x="59.60" y="573.60" font-size="11.5" font-weight="bold" fill="#000" >l</text>
<g transform="translate(147.5,610.7) scale(-1,1)"><path d="M15.7,7.4 C19,7.0 25,6.2 28.3,6.3 C31,6.4 33.5,7.6 35,9 L42.6,17.6 C43.9,19 43.3,20.5 41.9,20.8 C39.5,21.4 36.5,21.6 35.5,21.8 C33.5,22.2 31.7,22.8 31,24.5 C30.8,25.3 31.1,26 31.9,26.1 L34.3,26.4 C35.8,26.8 36.2,28.9 34.7,29.4 C33.8,29.7 32.8,29.5 32.2,29.3 L30.5,29.0 C29.3,29.0 28.3,29.3 27.6,30.1 C26.5,31.5 25.5,33.5 24.6,35.6 L28.6,36.1 C29.3,36.3 29.3,37.9 28.6,37.9 L3.6,37.9 C1.7,37.9 0.5,36.5 0.3,34 C-0.2,29 0.1,23 1.2,19.5 C2.4,15.0 4.2,12.2 6.6,10.4 C9.5,8.2 12.5,7.6 15.7,7.4 Z" fill="#404040"/><circle cx="23.8" cy="3.9" r="4.4" fill="#404040"/><ellipse cx="34.3" cy="14.0" rx="1.2" ry="1.05" fill="#fff"/><path d="M22.2,25.2 C22.8,27.6 24.4,29.8 26.8,30.9" fill="none" stroke="#fff" stroke-width="1.1" stroke-linecap="round"/><path d="M1.0,35.0 C0.2,38.8 1.8,41.2 6,41.8 C13,42.6 22,42.0 30,40.2 L37.4,39.1" fill="none" stroke="#404040" stroke-width="1.7" stroke-linecap="round"/></g>
<g transform="translate(149.4,661.5) scale(-1,1)"><path d="M15.7,7.4 C19,7.0 25,6.2 28.3,6.3 C31,6.4 33.5,7.6 35,9 L42.6,17.6 C43.9,19 43.3,20.5 41.9,20.8 C39.5,21.4 36.5,21.6 35.5,21.8 C33.5,22.2 31.7,22.8 31,24.5 C30.8,25.3 31.1,26 31.9,26.1 L34.3,26.4 C35.8,26.8 36.2,28.9 34.7,29.4 C33.8,29.7 32.8,29.5 32.2,29.3 L30.5,29.0 C29.3,29.0 28.3,29.3 27.6,30.1 C26.5,31.5 25.5,33.5 24.6,35.6 L28.6,36.1 C29.3,36.3 29.3,37.9 28.6,37.9 L3.6,37.9 C1.7,37.9 0.5,36.5 0.3,34 C-0.2,29 0.1,23 1.2,19.5 C2.4,15.0 4.2,12.2 6.6,10.4 C9.5,8.2 12.5,7.6 15.7,7.4 Z" fill="#404040"/><circle cx="23.8" cy="3.9" r="4.4" fill="#404040"/><ellipse cx="34.3" cy="14.0" rx="1.2" ry="1.05" fill="#fff"/><path d="M22.2,25.2 C22.8,27.6 24.4,29.8 26.8,30.9" fill="none" stroke="#fff" stroke-width="1.1" stroke-linecap="round"/><path d="M1.0,35.0 C0.2,38.8 1.8,41.2 6,41.8 C13,42.6 22,42.0 30,40.2 L37.4,39.1" fill="none" stroke="#404040" stroke-width="1.7" stroke-linecap="round"/></g>
<text x="83.30" y="623.70" text-anchor="middle" >Control</text>
<text x="83.30" y="632.50" text-anchor="middle" >diet</text>
<text x="83.30" y="674.40" text-anchor="middle" >–SG</text>
<text x="83.30" y="683.50" text-anchor="middle" >diet</text>
<rect x="79.10" y="645.85" width="13.00" height="3.5" rx="1.75" fill="#c9965c" stroke="#7a5228" stroke-width="0.6" transform="rotate(0 85.60 647.60)"/>
<rect x="73.90" y="638.25" width="13.20" height="3.5" rx="1.75" fill="#c9965c" stroke="#7a5228" stroke-width="0.6" transform="rotate(2 80.50 640.00)"/>
<rect x="87.60" y="643.25" width="12.80" height="3.5" rx="1.75" fill="#c9965c" stroke="#7a5228" stroke-width="0.6" transform="rotate(31 94.00 645.00)"/>
<rect x="66.30" y="643.65" width="13.80" height="3.5" rx="1.75" fill="#c9965c" stroke="#7a5228" stroke-width="0.6" transform="rotate(-18.4 73.20 645.40)"/>
<rect x="74.20" y="644.35" width="13.20" height="3.5" rx="1.75" fill="#c9965c" stroke="#7a5228" stroke-width="0.6" transform="rotate(-19.4 80.80 646.10)"/>
<rect x="79.10" y="697.05" width="13.00" height="3.5" rx="1.75" fill="#c998d2" stroke="#7a4a88" stroke-width="0.6" transform="rotate(0 85.60 698.80)"/>
<rect x="73.90" y="689.45" width="13.20" height="3.5" rx="1.75" fill="#c998d2" stroke="#7a4a88" stroke-width="0.6" transform="rotate(2 80.50 691.20)"/>
<rect x="87.60" y="694.45" width="12.80" height="3.5" rx="1.75" fill="#c998d2" stroke="#7a4a88" stroke-width="0.6" transform="rotate(31 94.00 696.20)"/>
<rect x="66.30" y="694.85" width="13.80" height="3.5" rx="1.75" fill="#c998d2" stroke="#7a4a88" stroke-width="0.6" transform="rotate(-18.4 73.20 696.60)"/>
<rect x="74.20" y="695.55" width="13.20" height="3.5" rx="1.75" fill="#c998d2" stroke="#7a4a88" stroke-width="0.6" transform="rotate(-19.4 80.80 697.30)"/>
<text x="182.6" y="643.1">[U<tspan font-size="4.7" dy="-3.4" style="stroke-width:0.1px">13</tspan><tspan dy="3.4">C]Glucose</tspan></text>
<text x="207.50" y="651.40" text-anchor="middle" >infusion</text>
<path d="M199.9,631.0 C190,624.5 176,618.5 147.8,617.0" fill="none" stroke="#2b3a9a" stroke-width="0.9"/>
<path d="M144.8,616.9 L148.6,614.9 L148.4,619.0 Z" fill="#2b3a9a"/>
<path d="M203.9,659.1 C196,669 182,677.5 159.6,680.9" fill="none" stroke="#2b3a9a" stroke-width="0.9"/>
<path d="M156.6,681.4 L160.0,678.8 L160.6,682.8 Z" fill="#2b3a9a"/>
<text x="262.40" y="573.60" font-size="11.5" font-weight="bold" fill="#000" >m</text>
<line x1="306.50" y1="572.20" x2="306.50" y2="712.60" stroke="#3a3a3a" stroke-width="0.8" />
<line x1="302.10" y1="712.60" x2="306.50" y2="712.60" stroke="#3a3a3a" stroke-width="0.8" />
<text x="297.90" y="715.50" text-anchor="end" >0</text>
<line x1="302.10" y1="689.20" x2="306.50" y2="689.20" stroke="#3a3a3a" stroke-width="0.8" />
<text x="297.90" y="692.10" text-anchor="end" >20</text>
<line x1="302.10" y1="665.80" x2="306.50" y2="665.80" stroke="#3a3a3a" stroke-width="0.8" />
<text x="297.90" y="668.70" text-anchor="end" >40</text>
<line x1="302.10" y1="642.40" x2="306.50" y2="642.40" stroke="#3a3a3a" stroke-width="0.8" />
<text x="297.90" y="645.30" text-anchor="end" >60</text>
<line x1="302.10" y1="619.00" x2="306.50" y2="619.00" stroke="#3a3a3a" stroke-width="0.8" />
<text x="297.90" y="621.90" text-anchor="end" >80</text>
<line x1="302.10" y1="595.60" x2="306.50" y2="595.60" stroke="#3a3a3a" stroke-width="0.8" />
<text x="297.90" y="598.50" text-anchor="end" >100</text>
<line x1="302.10" y1="572.20" x2="306.50" y2="572.20" stroke="#3a3a3a" stroke-width="0.8" />
<text x="297.90" y="575.10" text-anchor="end" >120</text>
<line x1="306.50" y1="712.60" x2="400.10" y2="712.60" stroke="#3a3a3a" stroke-width="0.8" />
<rect x="313.80" y="596.00" width="13.60" height="49.10" fill="#8fbad9" stroke="#222" stroke-width="0.8" />
<rect x="313.80" y="645.10" width="13.60" height="20.50" fill="#a2a2a6" stroke="#222" stroke-width="0.8" />
<rect x="313.80" y="665.60" width="13.60" height="47.00" fill="#d83129" stroke="#222" stroke-width="0.8" />
<line x1="320.60" y1="596.00" x2="320.60" y2="589.00" stroke="#333" stroke-width="0.9" />
<line x1="317.20" y1="589.00" x2="324.00" y2="589.00" stroke="#333" stroke-width="0.9" />
<line x1="320.60" y1="645.10" x2="320.60" y2="643.50" stroke="#333" stroke-width="0.9" />
<line x1="317.20" y1="643.50" x2="324.00" y2="643.50" stroke="#333" stroke-width="0.9" />
<line x1="320.60" y1="665.60" x2="320.60" y2="659.40" stroke="#333" stroke-width="0.9" />
<line x1="317.20" y1="659.40" x2="324.00" y2="659.40" stroke="#333" stroke-width="0.9" />
<line x1="320.60" y1="712.60" x2="320.60" y2="717.00" stroke="#3a3a3a" stroke-width="0.8" />
<rect x="335.50" y="596.00" width="13.60" height="50.60" fill="#8fbad9" stroke="#222" stroke-width="0.8" />
<rect x="335.50" y="646.60" width="13.60" height="15.40" fill="#a2a2a6" stroke="#222" stroke-width="0.8" />
<rect x="335.50" y="662.00" width="13.60" height="50.60" fill="#d83129" stroke="#222" stroke-width="0.8" />
<line x1="342.30" y1="596.00" x2="342.30" y2="591.40" stroke="#333" stroke-width="0.9" />
<line x1="338.90" y1="591.40" x2="345.70" y2="591.40" stroke="#333" stroke-width="0.9" />
<line x1="342.30" y1="646.60" x2="342.30" y2="635.60" stroke="#333" stroke-width="0.9" />
<line x1="338.90" y1="635.60" x2="345.70" y2="635.60" stroke="#333" stroke-width="0.9" />
<line x1="342.30" y1="662.00" x2="342.30" y2="653.20" stroke="#333" stroke-width="0.9" />
<line x1="338.90" y1="653.20" x2="345.70" y2="653.20" stroke="#333" stroke-width="0.9" />
<line x1="342.30" y1="712.60" x2="342.30" y2="717.00" stroke="#3a3a3a" stroke-width="0.8" />
<rect x="357.10" y="596.00" width="13.70" height="17.50" fill="#8fbad9" stroke="#222" stroke-width="0.8" />
<rect x="357.10" y="613.50" width="13.70" height="26.90" fill="#a2a2a6" stroke="#222" stroke-width="0.8" />
<rect x="357.10" y="640.40" width="13.70" height="72.20" fill="#d83129" stroke="#222" stroke-width="0.8" />
<line x1="363.95" y1="596.00" x2="363.95" y2="585.40" stroke="#333" stroke-width="0.9" />
<line x1="360.55" y1="585.40" x2="367.35" y2="585.40" stroke="#333" stroke-width="0.9" />
<line x1="363.95" y1="613.50" x2="363.95" y2="611.50" stroke="#333" stroke-width="0.9" />
<line x1="360.55" y1="611.50" x2="367.35" y2="611.50" stroke="#333" stroke-width="0.9" />
<line x1="363.95" y1="640.40" x2="363.95" y2="630.70" stroke="#333" stroke-width="0.9" />
<line x1="360.55" y1="630.70" x2="367.35" y2="630.70" stroke="#333" stroke-width="0.9" />
<line x1="363.95" y1="712.60" x2="363.95" y2="717.00" stroke="#3a3a3a" stroke-width="0.8" />
<rect x="378.80" y="596.00" width="13.60" height="32.60" fill="#8fbad9" stroke="#222" stroke-width="0.8" />
<rect x="378.80" y="628.60" width="13.60" height="23.50" fill="#a2a2a6" stroke="#222" stroke-width="0.8" />
<rect x="378.80" y="652.10" width="13.60" height="60.50" fill="#d83129" stroke="#222" stroke-width="0.8" />
<line x1="385.60" y1="596.00" x2="385.60" y2="588.30" stroke="#333" stroke-width="0.9" />
<line x1="382.20" y1="588.30" x2="389.00" y2="588.30" stroke="#333" stroke-width="0.9" />
<line x1="385.60" y1="628.60" x2="385.60" y2="626.30" stroke="#333" stroke-width="0.9" />
<line x1="382.20" y1="626.30" x2="389.00" y2="626.30" stroke="#333" stroke-width="0.9" />
<line x1="385.60" y1="652.10" x2="385.60" y2="645.90" stroke="#333" stroke-width="0.9" />
<line x1="382.20" y1="645.90" x2="389.00" y2="645.90" stroke="#333" stroke-width="0.9" />
<line x1="385.60" y1="712.60" x2="385.60" y2="717.00" stroke="#3a3a3a" stroke-width="0.8" />
<text x="316.90" y="727.40" text-anchor="middle" >Control</text>
<text x="340.50" y="727.40" text-anchor="middle" >–SG</text>
<text x="364.60" y="727.40" text-anchor="middle" >Control</text>
<text x="388.30" y="727.40" text-anchor="middle" >–SG</text>
<text x="320.40" y="736.20" text-anchor="middle" >diet</text>
<text x="341.00" y="736.20" text-anchor="middle" >diet</text>
<text x="364.70" y="736.20" text-anchor="middle" >diet</text>
<text x="388.00" y="736.20" text-anchor="middle" >diet</text>
<line x1="312.30" y1="740.30" x2="350.10" y2="740.30" stroke="#333" stroke-width="0.9" />
<line x1="355.60" y1="740.30" x2="394.40" y2="740.30" stroke="#333" stroke-width="0.9" />
<text x="331.20" y="750.60" text-anchor="middle" >Cortex</text>
<text x="375.00" y="750.60" text-anchor="middle" >Tumour</text>
<text transform="translate(277.6,642.3) rotate(-90)" text-anchor="middle">Percentage of total labelled serine</text>
<rect x="400.60" y="670.60" width="14.50" height="6.80" fill="#8fbad9" stroke="#222" stroke-width="0.8" />
<text x="419.10" y="676.30" >m+3</text>
<rect x="400.60" y="682.50" width="14.50" height="6.80" fill="#a2a2a6" stroke="#222" stroke-width="0.8" />
<text x="419.10" y="688.00" >m+2</text>
<rect x="400.60" y="694.10" width="14.50" height="6.80" fill="#d83129" stroke="#222" stroke-width="0.8" />
<text x="419.10" y="699.60" >m+1</text>
<text x="460.80" y="573.60" font-size="11.5" font-weight="bold" fill="#000" >n</text>
<rect x="469.00" y="606.10" width="11.24" height="11.15" fill="#d42028"/><rect x="480.19" y="606.10" width="11.24" height="11.15" fill="#b81e24"/><rect x="491.38" y="606.10" width="11.24" height="11.15" fill="#5a1010"/><rect x="502.57" y="606.10" width="11.24" height="11.15" fill="#10102a"/><rect x="513.76" y="606.10" width="11.24" height="11.15" fill="#ee2224"/><rect x="524.95" y="606.10" width="11.24" height="11.15" fill="#2a1010"/><rect x="536.14" y="606.10" width="11.24" height="11.15" fill="#2e44a8"/><rect x="547.33" y="606.10" width="11.24" height="11.15" fill="#3a55a8"/><rect x="469.00" y="617.20" width="11.24" height="11.15" fill="#b81e24"/><rect x="480.19" y="617.20" width="11.24" height="11.15" fill="#0e1018"/><rect x="491.38" y="617.20" width="11.24" height="11.15" fill="#b81e24"/><rect x="502.57" y="617.20" width="11.24" height="11.15" fill="#ee2224"/><rect x="513.76" y="617.20" width="11.24" height="11.15" fill="#c42026"/><rect x="524.95" y="617.20" width="11.24" height="11.15" fill="#0e1040"/><rect x="536.14" y="617.20" width="11.24" height="11.15" fill="#2e44a8"/><rect x="547.33" y="617.20" width="11.24" height="11.15" fill="#3a55a8"/><rect x="469.00" y="628.30" width="11.24" height="11.15" fill="#c42026"/><rect x="480.19" y="628.30" width="11.24" height="11.15" fill="#2e1010"/><rect x="491.38" y="628.30" width="11.24" height="11.15" fill="#ee2224"/><rect x="502.57" y="628.30" width="11.24" height="11.15" fill="#e02024"/><rect x="513.76" y="628.30" width="11.24" height="11.15" fill="#d42028"/><rect x="524.95" y="628.30" width="11.24" height="11.15" fill="#c02026"/><rect x="536.14" y="628.30" width="11.24" height="11.15" fill="#1e1a58"/><rect x="547.33" y="628.30" width="11.24" height="11.15" fill="#3a55a8"/><rect x="469.00" y="639.40" width="11.24" height="11.15" fill="#c42026"/><rect x="480.19" y="639.40" width="11.24" height="11.15" fill="#5a1010"/><rect x="491.38" y="639.40" width="11.24" height="11.15" fill="#1e0c0c"/><rect x="502.57" y="639.40" width="11.24" height="11.15" fill="#3e1010"/><rect x="513.76" y="639.40" width="11.24" height="11.15" fill="#ee2224"/><rect x="524.95" y="639.40" width="11.24" height="11.15" fill="#5a1010"/><rect x="536.14" y="639.40" width="11.24" height="11.15" fill="#1e1a58"/><rect x="547.33" y="639.40" width="11.24" height="11.15" fill="#3a55a8"/><rect x="469.00" y="650.50" width="11.24" height="11.15" fill="#8a1618"/><rect x="480.19" y="650.50" width="11.24" height="11.15" fill="#0a0606"/><rect x="491.38" y="650.50" width="11.24" height="11.15" fill="#0e1040"/><rect x="502.57" y="650.50" width="11.24" height="11.15" fill="#4a1010"/><rect x="513.76" y="650.50" width="11.24" height="11.15" fill="#c82226"/><rect x="524.95" y="650.50" width="11.24" height="11.15" fill="#ee2224"/><rect x="536.14" y="650.50" width="11.24" height="11.15" fill="#0e1018"/><rect x="547.33" y="650.50" width="11.24" height="11.15" fill="#3a55a8"/><rect x="469.00" y="661.60" width="11.24" height="11.15" fill="#1e0c0c"/><rect x="480.19" y="661.60" width="11.24" height="11.15" fill="#5a1010"/><rect x="491.38" y="661.60" width="11.24" height="11.15" fill="#b01e24"/><rect x="502.57" y="661.60" width="11.24" height="11.15" fill="#1e1a5e"/><rect x="513.76" y="661.60" width="11.24" height="11.15" fill="#ee2224"/><rect x="524.95" y="661.60" width="11.24" height="11.15" fill="#2e3ea8"/><rect x="536.14" y="661.60" width="11.24" height="11.15" fill="#3a55a8"/><rect x="547.33" y="661.60" width="11.24" height="11.15" fill="#1e1a5e"/><rect x="469.00" y="672.70" width="11.24" height="11.15" fill="#ee2224"/><rect x="480.19" y="672.70" width="11.24" height="11.15" fill="#d42028"/><rect x="491.38" y="672.70" width="11.24" height="11.15" fill="#7a1414"/><rect x="502.57" y="672.70" width="11.24" height="11.15" fill="#2a1010"/><rect x="513.76" y="672.70" width="11.24" height="11.15" fill="#ee2224"/><rect x="524.95" y="672.70" width="11.24" height="11.15" fill="#2a3090"/><rect x="536.14" y="672.70" width="11.24" height="11.15" fill="#2e3ea8"/><rect x="547.33" y="672.70" width="11.24" height="11.15" fill="#3a55a8"/><rect x="469.00" y="683.80" width="11.24" height="11.15" fill="#ee2224"/><rect x="480.19" y="683.80" width="11.24" height="11.15" fill="#2a1010"/><rect x="491.38" y="683.80" width="11.24" height="11.15" fill="#0e1018"/><rect x="502.57" y="683.80" width="11.24" height="11.15" fill="#0e1024"/><rect x="513.76" y="683.80" width="11.24" height="11.15" fill="#6e1010"/><rect x="524.95" y="683.80" width="11.24" height="11.15" fill="#3a55a8"/><rect x="536.14" y="683.80" width="11.24" height="11.15" fill="#3a55a8"/><rect x="547.33" y="683.80" width="11.24" height="11.15" fill="#3a55a8"/><rect x="469.00" y="694.90" width="11.24" height="11.15" fill="#22226a"/><rect x="480.19" y="694.90" width="11.24" height="11.15" fill="#3a55a8"/><rect x="491.38" y="694.90" width="11.24" height="11.15" fill="#22226a"/><rect x="502.57" y="694.90" width="11.24" height="11.15" fill="#ee2224"/><rect x="513.76" y="694.90" width="11.24" height="11.15" fill="#2e3ea8"/><rect x="524.95" y="694.90" width="11.24" height="11.15" fill="#7a1414"/><rect x="536.14" y="694.90" width="11.24" height="11.15" fill="#2e3aa0"/><rect x="547.33" y="694.90" width="11.24" height="11.15" fill="#2e3aa0"/><rect x="469.00" y="706.00" width="11.24" height="11.15" fill="#c42026"/><rect x="480.19" y="706.00" width="11.24" height="11.15" fill="#3a55a8"/><rect x="491.38" y="706.00" width="11.24" height="11.15" fill="#600c0e"/><rect x="502.57" y="706.00" width="11.24" height="11.15" fill="#0e1018"/><rect x="513.76" y="706.00" width="11.24" height="11.15" fill="#ee2224"/><rect x="524.95" y="706.00" width="11.24" height="11.15" fill="#ee2224"/><rect x="536.14" y="706.00" width="11.24" height="11.15" fill="#3a55a8"/><rect x="547.33" y="706.00" width="11.24" height="11.15" fill="#2e3ea8"/>
<text x="491.30" y="588.50" text-anchor="middle" >Control</text>
<text x="491.30" y="597.50" text-anchor="middle" >diet</text>
<text x="535.80" y="588.50" text-anchor="middle" >–SG</text>
<text x="535.80" y="597.50" text-anchor="middle" >diet</text>
<line x1="473.00" y1="601.30" x2="509.70" y2="601.30" stroke="#222" stroke-width="0.9" />
<line x1="517.70" y1="601.30" x2="554.10" y2="601.30" stroke="#222" stroke-width="0.9" />
<text x="561.80" y="613.60" >IMP</text>
<text x="561.80" y="624.93" >GMP</text>
<text x="561.80" y="636.26" >GDP</text>
<text x="561.80" y="647.59" >AMP</text>
<text x="561.80" y="658.92" >ADP</text>
<text x="561.80" y="670.25" >ATP</text>
<text x="561.80" y="681.58" >UMP</text>
<text x="561.80" y="692.91" >dTDP</text>
<text x="561.80" y="704.24" >NAD</text>
<text x="561.80" y="715.57" >NADH</text>
<rect x="599.00" y="593.50" width="6.60" height="115.60" fill="url(#hcb)" />
<text x="602.30" y="591.60" text-anchor="middle" >Max</text>
<text x="602.30" y="717.60" text-anchor="middle" >Min</text>
<text transform="translate(611.2,651.5) rotate(90)" text-anchor="middle">Normalized mean enrichment</text>
</g></svg></body></html>
